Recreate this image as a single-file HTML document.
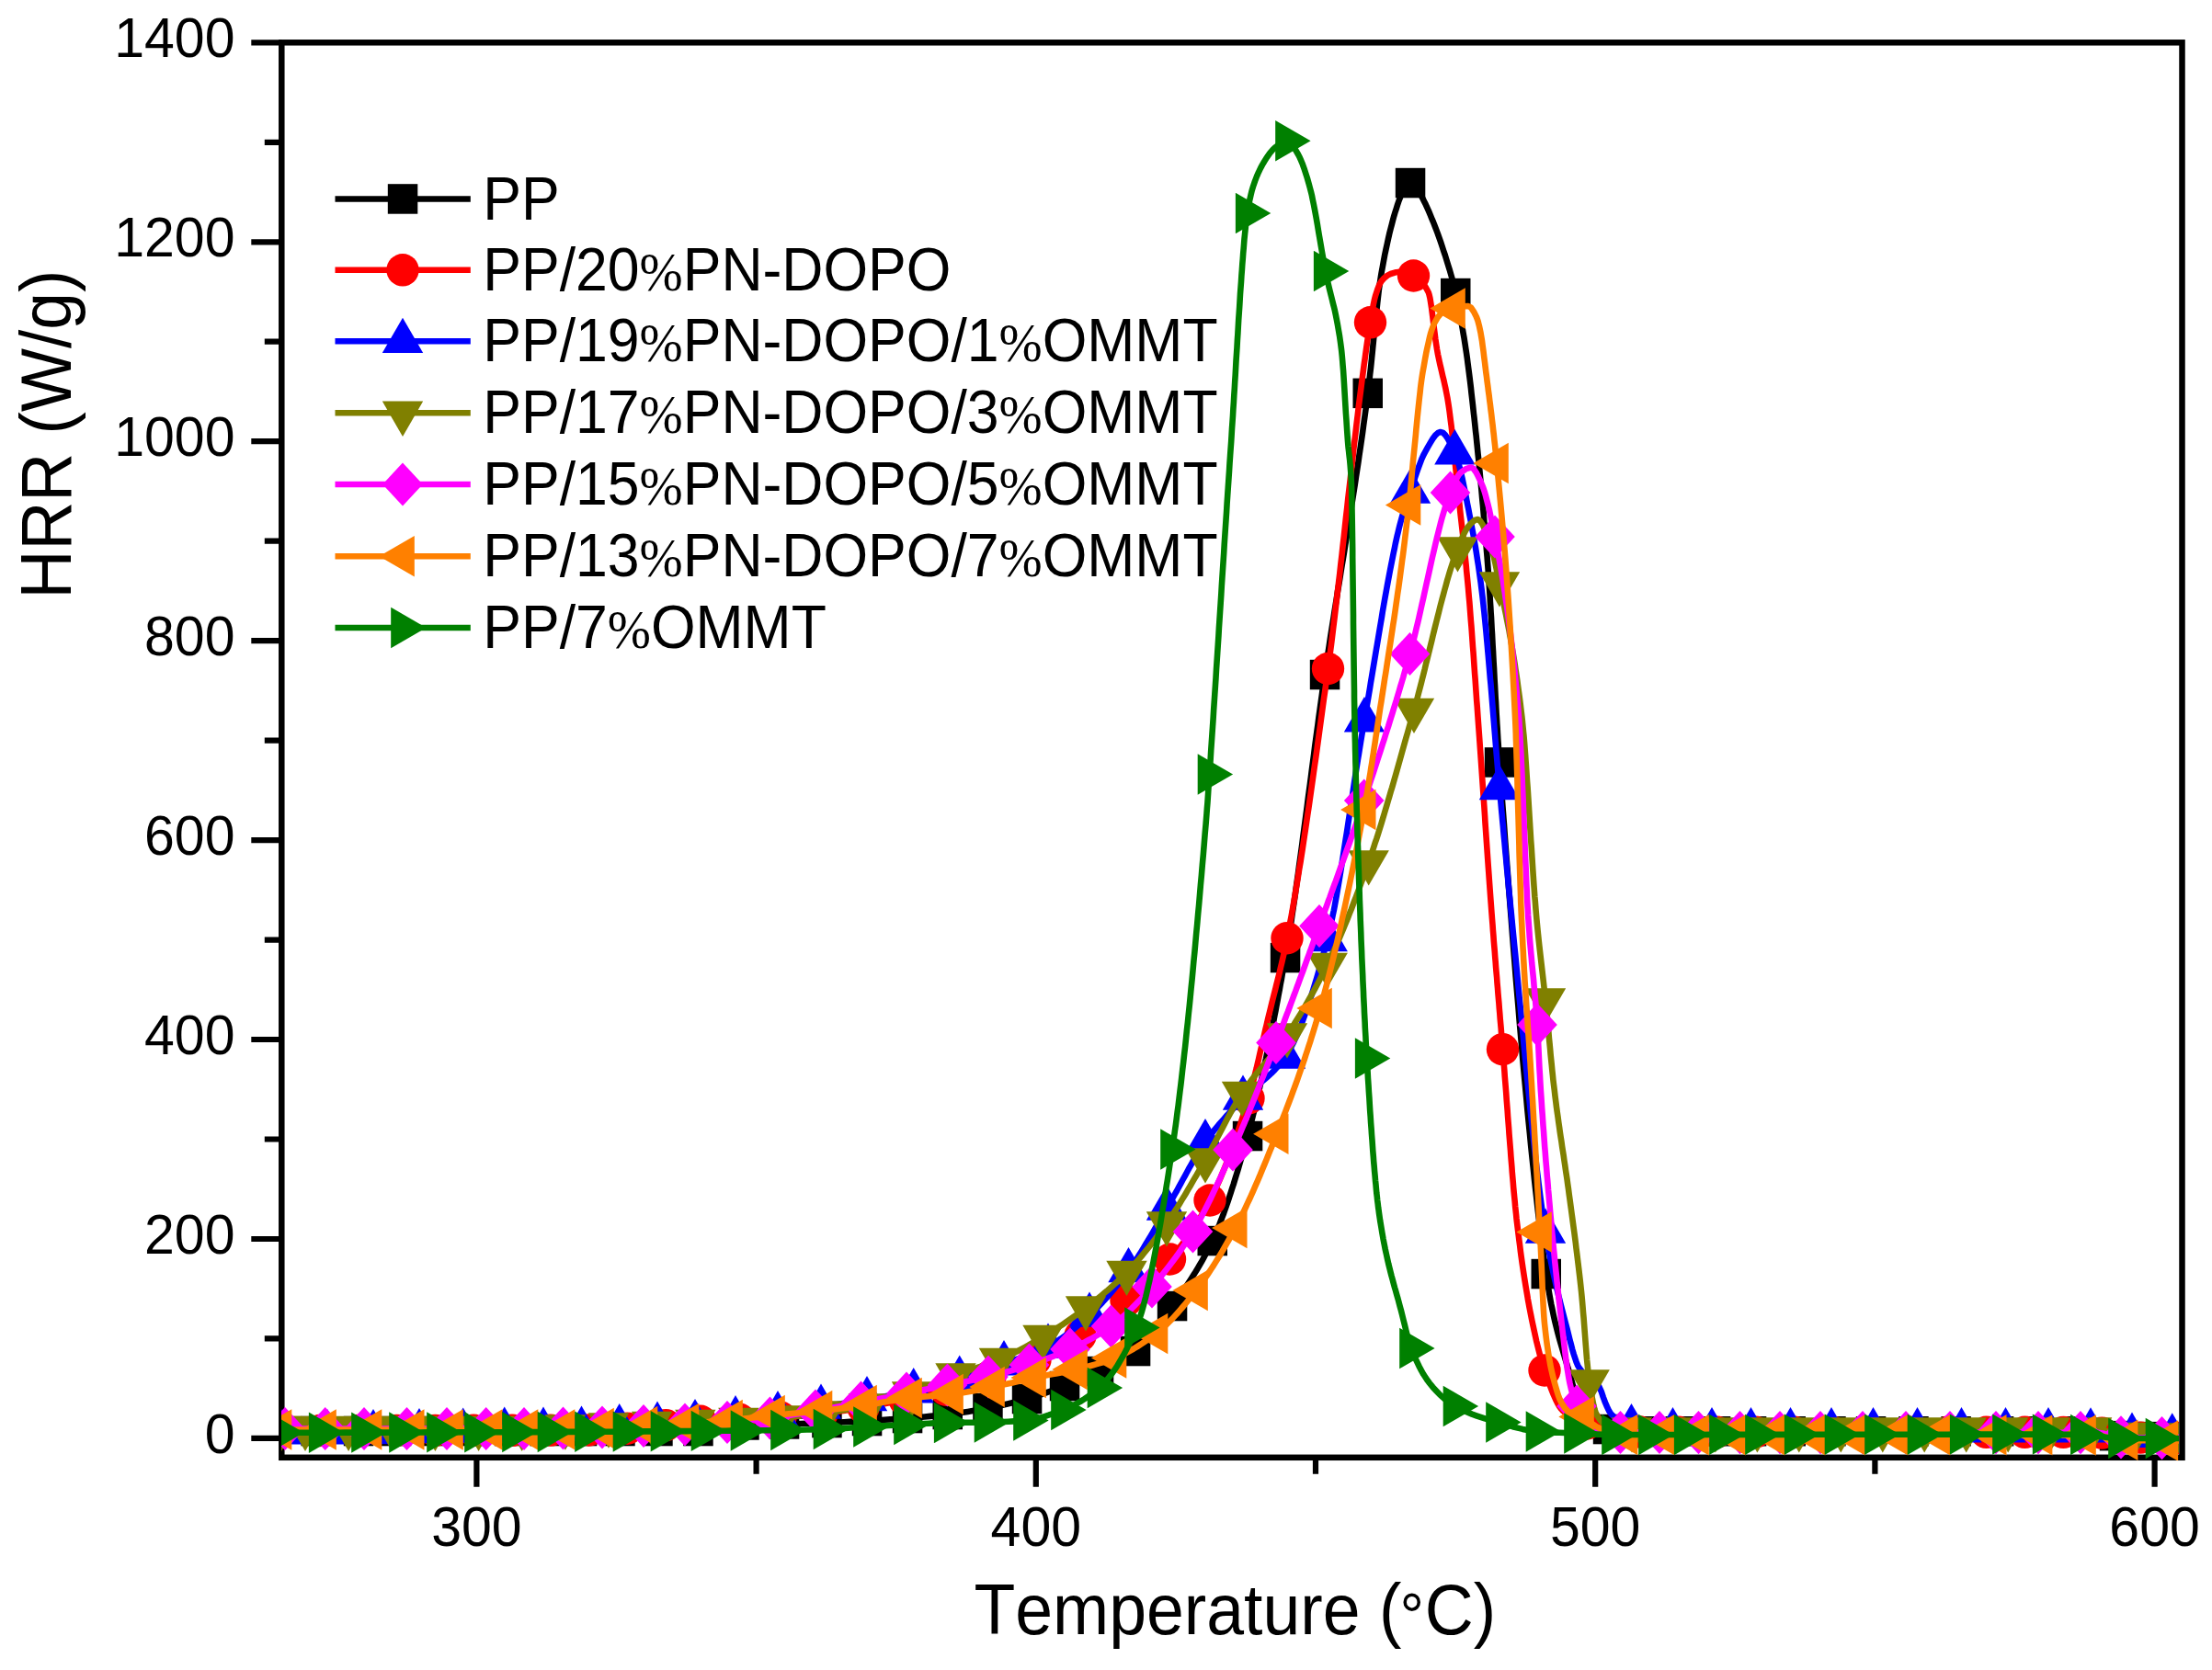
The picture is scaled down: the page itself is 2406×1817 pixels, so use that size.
<!DOCTYPE html>
<html lang="en">
<head>
<meta charset="utf-8">
<title>HRR vs Temperature</title>
<style>
html,body{margin:0;padding:0;background:#fff;}
body{width:2406px;height:1817px;overflow:hidden;}
svg{display:block;}
text{font-kerning:none;}
</style>
</head>
<body>
<svg width="2406" height="1817" viewBox="0 0 2406 1817">
<rect width="2406" height="1817" fill="#fff"/>
<defs><clipPath id="cp"><rect x="306" y="40" width="2064" height="1549"/></clipPath></defs>
<rect x="306.3" y="46.3" width="2067.2" height="1539.5" fill="none" stroke="#000" stroke-width="6.5"/>
<path d="M306.3 1564.9 H273.3 M306.3 1456.4 H287.8 M306.3 1348 H273.3 M306.3 1239.5 H287.8 M306.3 1131 H273.3 M306.3 1022.6 H287.8 M306.3 914.1 H273.3 M306.3 805.6 H287.8 M306.3 697.1 H273.3 M306.3 588.7 H287.8 M306.3 480.2 H273.3 M306.3 371.7 H287.8 M306.3 263.3 H273.3 M306.3 154.8 H287.8 M306.3 46.3 H273.3 M518.4 1585.8 V1617.8 M822.6 1585.8 V1603.8 M1126.8 1585.8 V1617.8 M1431 1585.8 V1603.8 M1735.2 1585.8 V1617.8 M2039.4 1585.8 V1603.8 M2343.6 1585.8 V1617.8" stroke="#000" stroke-width="6.2" fill="none"/>
<g font-family="'Liberation Sans', Arial, sans-serif" fill="#000">
<text transform="translate(255.5 1580.9) scale(0.957 1)" font-size="61.7" text-anchor="end">0</text>
<text transform="translate(255.5 1364) scale(0.957 1)" font-size="61.7" text-anchor="end">200</text>
<text transform="translate(255.5 1147) scale(0.957 1)" font-size="61.7" text-anchor="end">400</text>
<text transform="translate(255.5 930.1) scale(0.957 1)" font-size="61.7" text-anchor="end">600</text>
<text transform="translate(255.5 713.1) scale(0.957 1)" font-size="61.7" text-anchor="end">800</text>
<text transform="translate(255.5 496.2) scale(0.957 1)" font-size="61.7" text-anchor="end">1000</text>
<text transform="translate(255.5 279.3) scale(0.957 1)" font-size="61.7" text-anchor="end">1200</text>
<text transform="translate(255.5 62.3) scale(0.957 1)" font-size="61.7" text-anchor="end">1400</text>
<text transform="translate(518.4 1682.4) scale(0.957 1)" font-size="61.7" text-anchor="middle">300</text>
<text transform="translate(1126.8 1682.4) scale(0.957 1)" font-size="61.7" text-anchor="middle">400</text>
<text transform="translate(1735.2 1682.4) scale(0.957 1)" font-size="61.7" text-anchor="middle">500</text>
<text transform="translate(2343.6 1682.4) scale(0.957 1)" font-size="61.7" text-anchor="middle">600</text>
<text transform="translate(1059.5 1778) scale(0.953 1)" font-size="77" text-anchor="start">Temperature (<tspan x="499.8" dy="5" font-size="69.5" text-anchor="middle">&#176;</tspan><tspan x="514.4" dy="-5" text-anchor="start">C)</tspan></text>
<text transform="translate(76.5 472.5) rotate(-90) scale(0.951 1)" font-size="77" text-anchor="middle">HRR (W/g)</text>
</g>
<g clip-path="url(#cp)">
<path d="M300 1557 L306.2 1557 L312.5 1557 L318.7 1557 L325 1557 L331.2 1557 L337.5 1557 L343.7 1557 L350.3 1557 L356.9 1557 L363.5 1557 L370.2 1557 L376.8 1557 L383.4 1557 L390 1557 L396.8 1557 L403.7 1557 L410.5 1557 L417.3 1557 L424.2 1557 L431 1557 L437.8 1557 L444.7 1557 L451.5 1557 L458.3 1557 L465.2 1557 L472 1557 L478.8 1557 L485.7 1557 L492.5 1557 L499.3 1557 L506.2 1557 L513 1557 L519.8 1557 L526.7 1557 L533.5 1557 L540.3 1557 L547.2 1557 L554 1557 L560.4 1557 L566.8 1557 L573.2 1557 L579.7 1557 L586.1 1557 L592.5 1557 L599.2 1557 L606 1557 L612.8 1557 L619.5 1557 L626.2 1557 L633 1557 L639.9 1557 L646.8 1557 L653.8 1557 L660.7 1557 L667.6 1557 L674.5 1557 L681.3 1557 L688.2 1557 L695 1557 L701.8 1557 L708.7 1557 L715.5 1557 L721.8 1557 L728.1 1557 L734.4 1557 L740.6 1557 L746.9 1557 L753.2 1557 L759.5 1557 L765.1 1556.8 L770.6 1556.3 L776.2 1555.5 L781.7 1554.5 L787.3 1553.5 L792.8 1552.5 L798.4 1551.6 L803.9 1550.9 L809.5 1550.5 L815.7 1550.3 L821.9 1550.1 L828.1 1550 L834.4 1549.9 L840.6 1549.8 L846.8 1549.6 L853 1549.5 L858.8 1549.3 L864.6 1549.2 L870.4 1549 L876.2 1548.8 L882.1 1548.6 L887.9 1548.4 L893.7 1548.2 L899.5 1548 L905.7 1547.8 L911.9 1547.5 L918.1 1547.2 L924.4 1546.9 L930.6 1546.6 L936.8 1546.3 L943 1546 L949.3 1545.6 L955.6 1545.3 L961.9 1544.8 L968.1 1544.4 L974.4 1544 L980.7 1543.5 L987 1543 L993.2 1542.5 L999.5 1542 L1005.7 1541.5 L1012 1540.9 L1018.2 1540.3 L1024.5 1539.7 L1030.7 1539 L1036.2 1538.3 L1041.7 1537.6 L1047.1 1536.8 L1052.6 1535.9 L1058.1 1535 L1063.5 1534 L1069 1533 L1074.5 1532 L1079.8 1531 L1085.1 1529.9 L1090.4 1528.7 L1095.8 1527.5 L1101.1 1526.2 L1106.4 1524.8 L1111.7 1523.5 L1117 1522 L1121.6 1520.7 L1126.1 1519.3 L1130.7 1517.8 L1135.2 1516.3 L1139.8 1514.7 L1144.3 1513.1 L1148.9 1511.4 L1153.4 1509.7 L1158 1508 L1162.6 1506.2 L1167.2 1504.3 L1171.9 1502.4 L1176.5 1500.5 L1181.1 1498.4 L1185.8 1496.4 L1190.4 1494.2 L1195 1492 L1199 1490.1 L1203 1488.2 L1207 1486.3 L1211 1484.4 L1215 1482.4 L1219 1480.3 L1223 1478 L1227 1475.6 L1231 1472.9 L1235 1470 L1237.9 1467.7 L1240.7 1465.1 L1243.6 1462.2 L1246.4 1459.1 L1249.3 1455.8 L1252.1 1452.3 L1255 1448.7 L1257.9 1444.9 L1260.7 1441 L1263.6 1437.1 L1266.4 1433.1 L1269.3 1429 L1272.1 1425 L1275 1421 L1277.3 1417.8 L1279.6 1414.6 L1281.9 1411.4 L1284.2 1408.1 L1286.5 1404.9 L1288.8 1401.5 L1291.1 1398.2 L1293.4 1394.7 L1295.7 1391.2 L1298 1387.6 L1300.3 1384 L1302.6 1380.2 L1304.9 1376.3 L1307.2 1372.3 L1309.5 1368.1 L1311.8 1363.8 L1314.1 1359.4 L1316.4 1354.8 L1318.7 1350 L1320.2 1346.7 L1321.8 1343.3 L1323.3 1339.7 L1324.8 1336 L1326.4 1332.2 L1327.9 1328.3 L1329.4 1324.3 L1331 1320.2 L1332.5 1315.9 L1334 1311.6 L1335.6 1307.2 L1337.1 1302.6 L1338.6 1298 L1340.1 1293.3 L1341.7 1288.5 L1343.2 1283.5 L1344.7 1278.6 L1346.3 1273.5 L1347.8 1268.4 L1349.3 1263.1 L1350.9 1257.8 L1352.4 1252.5 L1353.9 1247 L1355.5 1241.6 L1357 1236 L1358.1 1232.1 L1359.1 1228.2 L1360.2 1224.2 L1361.2 1220.2 L1362.3 1216 L1363.3 1211.8 L1364.4 1207.6 L1365.4 1203.3 L1366.5 1198.9 L1367.5 1194.5 L1368.6 1190 L1369.6 1185.5 L1370.7 1180.8 L1371.7 1176.2 L1372.8 1171.5 L1373.8 1166.7 L1374.9 1161.8 L1375.9 1156.9 L1377 1152 L1378 1147 L1379.1 1141.9 L1380.1 1136.8 L1381.2 1131.6 L1382.2 1126.4 L1383.3 1121.1 L1384.3 1115.8 L1385.4 1110.4 L1386.4 1105 L1387.5 1099.5 L1388.5 1094 L1389.6 1088.4 L1390.6 1082.7 L1391.7 1077.1 L1392.7 1071.3 L1393.8 1065.6 L1394.8 1059.7 L1395.9 1053.9 L1396.9 1048 L1398 1042 L1399.1 1035.8 L1400.2 1029.4 L1401.2 1022.9 L1402.3 1016.2 L1403.4 1009.4 L1404.5 1002.4 L1405.5 995.3 L1406.6 988.1 L1407.7 980.7 L1408.8 973.3 L1409.8 965.7 L1410.9 958 L1412 950.3 L1413 942.5 L1414.1 934.6 L1415.2 926.6 L1416.3 918.6 L1417.3 910.5 L1418.4 902.4 L1419.5 894.2 L1420.6 886 L1421.7 877.8 L1422.7 869.5 L1423.8 861.3 L1424.9 853.1 L1426 844.8 L1427 836.6 L1428.1 828.4 L1429.2 820.2 L1430.2 812 L1431.3 803.9 L1432.4 795.9 L1433.5 787.9 L1434.5 779.9 L1435.6 772.1 L1436.7 764.3 L1437.8 756.5 L1438.8 748.9 L1439.9 741.4 L1441 734 L1442.2 726 L1443.3 718.2 L1444.5 710.4 L1445.7 702.7 L1446.8 695.1 L1448 687.6 L1449.2 680.1 L1450.4 672.7 L1451.5 665.4 L1452.7 658.1 L1453.9 650.8 L1455 643.6 L1456.2 636.4 L1457.4 629.2 L1458.5 622 L1459.7 614.8 L1460.9 607.7 L1462.1 600.5 L1463.2 593.3 L1464.4 586.1 L1465.6 578.9 L1466.7 571.6 L1467.9 564.3 L1469.1 556.9 L1470.2 549.5 L1471.4 542.1 L1472.6 534.5 L1473.8 527 L1474.9 519.3 L1476.1 511.5 L1477.3 503.7 L1478.4 495.7 L1479.6 487.7 L1480.8 479.5 L1482 471.2 L1483.1 462.8 L1484.3 454.3 L1485.5 445.6 L1486.6 436.8 L1487.8 427.8 L1488.4 422.9 L1489 417.8 L1489.6 412.5 L1490.2 406.9 L1490.9 401.2 L1491.5 395.4 L1492.1 389.4 L1492.7 383.4 L1493.3 377.3 L1493.9 371.1 L1494.5 365 L1495.2 358.9 L1495.8 352.8 L1496.4 346.9 L1497 341 L1497.6 335.3 L1498.2 329.7 L1498.8 324.3 L1499.4 319.1 L1500 314.2 L1500.7 309.6 L1501.3 305.2 L1501.9 301.2 L1502.5 297.5 L1503.8 290.5 L1505 283.8 L1506.2 277.4 L1507.5 271.3 L1508.8 265.4 L1510 259.7 L1511.2 254.4 L1512.5 249.2 L1513.8 244.3 L1515 239.6 L1516.2 235.2 L1517.5 230.9 L1518.8 226.9 L1520 223.1 L1521.2 219.4 L1522.5 216 L1524.7 210.2 L1526.8 205.2 L1529 202 L1531.5 199.9 L1534 199 L1536.5 200 L1539 202 L1541.8 205.5 L1544.7 210.4 L1547.5 216 L1549.1 219.2 L1550.8 222.6 L1552.4 226.1 L1554 229.7 L1555.6 233.5 L1557.2 237.4 L1558.9 241.4 L1560.5 245.5 L1562.1 249.7 L1563.8 254.1 L1565.4 258.6 L1567 263.2 L1568.6 268 L1570.2 272.9 L1571.9 277.9 L1573.5 283.1 L1575.1 288.4 L1576.8 293.8 L1578.4 299.3 L1580 305 L1581.7 311.5 L1583.3 319 L1584.2 323.4 L1585.2 327.8 L1586.1 332.4 L1587 337.1 L1587.9 341.9 L1588.8 346.8 L1589.8 351.9 L1590.7 357.2 L1591.6 362.6 L1592.6 368.2 L1593.5 374 L1594.4 380 L1595.1 384.6 L1595.8 389.4 L1596.4 394.4 L1597.1 399.6 L1597.8 405 L1598.5 410.5 L1599.2 416.2 L1599.9 422 L1600.5 427.9 L1601.2 433.9 L1601.9 440 L1602.4 444.7 L1602.9 449.5 L1603.5 454.3 L1604 459.1 L1604.5 463.9 L1605 468.8 L1605.6 473.8 L1606.1 478.8 L1606.6 483.9 L1607.1 489 L1607.6 494.1 L1608.2 499.3 L1608.7 504.6 L1609.2 510 L1609.7 515.4 L1610.2 520.8 L1610.8 526.4 L1611.3 532 L1611.8 537.7 L1612.3 543.5 L1612.9 549.3 L1613.4 555.2 L1613.9 561.3 L1614.4 567.4 L1614.9 573.5 L1615.5 579.8 L1616 586.2 L1616.5 592.7 L1617 599.3 L1617.6 605.9 L1618.1 612.7 L1618.6 619.6 L1618.9 624.1 L1619.3 628.9 L1619.6 633.8 L1619.9 638.8 L1620.3 644 L1620.6 649.3 L1620.9 654.8 L1621.3 660.4 L1621.6 666.1 L1622 671.8 L1622.3 677.7 L1622.6 683.7 L1623 689.7 L1623.3 695.8 L1623.6 701.9 L1624 708.1 L1624.3 714.3 L1624.6 720.5 L1625 726.7 L1625.3 732.9 L1625.6 739.2 L1626 745.4 L1626.3 751.5 L1626.6 757.7 L1627 763.8 L1627.3 769.8 L1627.6 775.7 L1628 781.6 L1628.3 787.4 L1628.7 793.1 L1629 798.7 L1629.3 804.2 L1629.7 809.5 L1630 814.8 L1630.3 819.8 L1630.7 824.7 L1631 829.5 L1632.3 847.1 L1633.5 864.6 L1634.8 881.9 L1636.1 899.1 L1637.3 916.2 L1638.6 933.2 L1639.9 950 L1641.1 966.6 L1642.4 983.1 L1643.7 999.5 L1644.9 1015.6 L1646.2 1031.6 L1647.5 1047.4 L1648.7 1063.1 L1650 1078.5 L1651.3 1093.8 L1652.5 1108.8 L1653.8 1123.7 L1655.1 1138.3 L1656.3 1152.7 L1657.6 1166.9 L1658.9 1180.8 L1660.2 1194.5 L1661.4 1208 L1662.7 1221.2 L1664 1234.2 L1665.2 1246.9 L1666.5 1259.4 L1667.8 1271.5 L1669 1283.4 L1670.3 1295.1 L1671.6 1306.4 L1672.8 1317.4 L1674.1 1328.2 L1675.4 1338.6 L1676.6 1348.7 L1677.9 1358.5 L1679.2 1368 L1680.4 1377.2 L1681.7 1386 L1682.6 1392.1 L1683.5 1398 L1684.5 1403.5 L1685.4 1408.8 L1686.3 1413.9 L1687.2 1418.7 L1688.2 1423.3 L1689.1 1427.7 L1690 1432 L1691.3 1437.7 L1692.6 1443.1 L1693.9 1448.2 L1695.2 1453.1 L1696.5 1457.8 L1697.8 1462.4 L1699.1 1466.8 L1700.4 1471.2 L1701.6 1475.4 L1702.9 1479.7 L1704.2 1484 L1705.5 1488.3 L1706.8 1492.7 L1708.1 1497.3 L1709.4 1502 L1710.7 1506.9 L1712 1512 L1713.2 1517.4 L1714.3 1523.8 L1715.5 1530.3 L1716.7 1536.1 L1717.8 1540.6 L1719 1543 L1723.3 1546.4 L1727.6 1549.1 L1731.9 1551.1 L1736.1 1552.6 L1740.4 1553.7 L1744.7 1554.5 L1749 1555 L1754.7 1555.6 L1760.4 1556.1 L1766.1 1556.5 L1771.9 1556.8 L1777.6 1557.1 L1783.3 1557.2 L1789 1557.3 L1795.5 1557.3 L1801.9 1557.3 L1808.3 1557.3 L1814.8 1557.3 L1821.2 1557.3 L1827.7 1557.3 L1834.1 1557.3 L1840.5 1557.3 L1846.8 1557.3 L1853.2 1557.3 L1859.6 1557.3 L1866 1557.3 L1872.5 1557.3 L1879 1557.3 L1885.5 1557.3 L1892 1557.3 L1898.5 1557.3 L1905 1557.3 L1911.1 1557.3 L1917.2 1557.3 L1923.3 1557.3 L1929.4 1557.3 L1935.5 1557.3 L1941.6 1557.3 L1947.7 1557.3 L1954 1557.3 L1960.2 1557.3 L1966.5 1557.3 L1972.7 1557.3 L1979 1557.3 L1985.2 1557.3 L1991.5 1557.3 L1997.7 1557.3 L2003.9 1557.3 L2010.1 1557.3 L2016.4 1557.3 L2022.6 1557.3 L2028.8 1557.3 L2035 1557.3 L2041.6 1557.3 L2048.3 1557.3 L2054.9 1557.3 L2061.6 1557.3 L2068.2 1557.3 L2074.9 1557.3 L2081.5 1557.3 L2088.1 1557.3 L2094.7 1557.3 L2101.3 1557.3 L2107.9 1557.3 L2114.5 1557.3 L2121.1 1557.3 L2127.7 1557.3 L2134.3 1557.3 L2140.9 1557.3 L2147.5 1557.3 L2154.2 1557.3 L2160.8 1557.3 L2167.4 1557.3 L2174 1557.3 L2180.2 1557.3 L2186.5 1557.3 L2192.7 1557.3 L2198.9 1557.3 L2205.1 1557.3 L2211.4 1557.3 L2217.6 1557.3 L2224.5 1557.3 L2231.3 1557.3 L2238.2 1557.3 L2245.1 1557.3 L2251.9 1557.3 L2258.8 1557.3 L2266.5 1557.3 L2274.3 1557.3 L2282 1557.3 L2287 1558.1 L2292 1559.7 L2297 1561.4 L2302 1562.3 L2308.4 1562.5 L2314.7 1562.7 L2321.1 1562.8 L2327.5 1562.9 L2333.8 1563 L2340.2 1563.1 L2346.5 1563.2 L2352.9 1563.2 L2359.3 1563.3 L2365.6 1563.3 L2372 1563.3" fill="none" stroke="#000000" stroke-width="6.6" stroke-linejoin="round"/>
<rect x="283.8" y="1540.8" width="32.5" height="32.5" fill="#000000"/>
<rect x="327.4" y="1540.8" width="32.5" height="32.5" fill="#000000"/>
<rect x="373.8" y="1540.8" width="32.5" height="32.5" fill="#000000"/>
<rect x="414.8" y="1540.8" width="32.5" height="32.5" fill="#000000"/>
<rect x="455.8" y="1540.8" width="32.5" height="32.5" fill="#000000"/>
<rect x="496.8" y="1540.8" width="32.5" height="32.5" fill="#000000"/>
<rect x="537.8" y="1540.8" width="32.5" height="32.5" fill="#000000"/>
<rect x="576.2" y="1540.8" width="32.5" height="32.5" fill="#000000"/>
<rect x="616.8" y="1540.8" width="32.5" height="32.5" fill="#000000"/>
<rect x="658.2" y="1540.8" width="32.5" height="32.5" fill="#000000"/>
<rect x="699.2" y="1540.8" width="32.5" height="32.5" fill="#000000"/>
<rect x="743.2" y="1540.8" width="32.5" height="32.5" fill="#000000"/>
<rect x="793.2" y="1534.2" width="32.5" height="32.5" fill="#000000"/>
<rect x="836.8" y="1533.2" width="32.5" height="32.5" fill="#000000"/>
<rect x="883.2" y="1531.8" width="32.5" height="32.5" fill="#000000"/>
<rect x="926.8" y="1529.8" width="32.5" height="32.5" fill="#000000"/>
<rect x="970.8" y="1526.8" width="32.5" height="32.5" fill="#000000"/>
<rect x="1014.5" y="1522.8" width="32.5" height="32.5" fill="#000000"/>
<rect x="1058.2" y="1515.8" width="32.5" height="32.5" fill="#000000"/>
<rect x="1100.8" y="1505.8" width="32.5" height="32.5" fill="#000000"/>
<rect x="1141.8" y="1491.8" width="32.5" height="32.5" fill="#000000"/>
<rect x="1178.8" y="1475.8" width="32.5" height="32.5" fill="#000000"/>
<rect x="1218.8" y="1453.8" width="32.5" height="32.5" fill="#000000"/>
<rect x="1258.8" y="1404.8" width="32.5" height="32.5" fill="#000000"/>
<rect x="1302.5" y="1333.8" width="32.5" height="32.5" fill="#000000"/>
<rect x="1340.8" y="1219.8" width="32.5" height="32.5" fill="#000000"/>
<rect x="1381.8" y="1025.8" width="32.5" height="32.5" fill="#000000"/>
<rect x="1424.8" y="717.8" width="32.5" height="32.5" fill="#000000"/>
<rect x="1471.5" y="411.6" width="32.5" height="32.5" fill="#000000"/>
<rect x="1517.8" y="182.8" width="32.5" height="32.5" fill="#000000"/>
<rect x="1567" y="302.8" width="32.5" height="32.5" fill="#000000"/>
<rect x="1614.8" y="813.2" width="32.5" height="32.5" fill="#000000"/>
<rect x="1665.5" y="1369.8" width="32.5" height="32.5" fill="#000000"/>
<rect x="1702.8" y="1526.8" width="32.5" height="32.5" fill="#000000"/>
<rect x="1732.8" y="1538.8" width="32.5" height="32.5" fill="#000000"/>
<rect x="1772.8" y="1541" width="32.5" height="32.5" fill="#000000"/>
<rect x="1811.5" y="1541" width="32.5" height="32.5" fill="#000000"/>
<rect x="1849.8" y="1541" width="32.5" height="32.5" fill="#000000"/>
<rect x="1888.8" y="1541" width="32.5" height="32.5" fill="#000000"/>
<rect x="1931.5" y="1541" width="32.5" height="32.5" fill="#000000"/>
<rect x="1975.2" y="1541" width="32.5" height="32.5" fill="#000000"/>
<rect x="2018.8" y="1541" width="32.5" height="32.5" fill="#000000"/>
<rect x="2065.2" y="1541" width="32.5" height="32.5" fill="#000000"/>
<rect x="2111.4" y="1541" width="32.5" height="32.5" fill="#000000"/>
<rect x="2157.8" y="1541" width="32.5" height="32.5" fill="#000000"/>
<rect x="2201.3" y="1541" width="32.5" height="32.5" fill="#000000"/>
<rect x="2242.6" y="1541" width="32.5" height="32.5" fill="#000000"/>
<rect x="2283.8" y="1545.9" width="32.5" height="32.5" fill="#000000"/>
<rect x="2324.2" y="1546.9" width="32.5" height="32.5" fill="#000000"/>
<rect x="2355.8" y="1547.1" width="32.5" height="32.5" fill="#000000"/>
<path d="M306 1556.5 L314.4 1556.5 L322.7 1556.5 L331.1 1556.5 L339.4 1556.5 L347.8 1556.5 L356.1 1556.5 L364.4 1556.5 L372.8 1556.5 L381.1 1556.5 L389.5 1556.5 L397.9 1556.5 L406.2 1556.5 L414.6 1556.5 L422.9 1556.5 L431.2 1556.5 L439.6 1556.4 L447.9 1556.4 L456.3 1556.4 L464.6 1556.4 L473 1556.4 L481.4 1556.4 L489.7 1556.4 L498 1556.4 L506.4 1556.4 L514.8 1556.3 L523.1 1556.3 L531.5 1556.3 L539.8 1556.3 L548.1 1556.3 L556.5 1556.3 L564.8 1556.2 L573.2 1556.2 L581.5 1556.2 L589.9 1556.2 L598.2 1556.1 L606.6 1556.1 L615 1556.1 L623.3 1556.1 L631.6 1556 L640 1556 L646.4 1555.9 L652.9 1555.7 L659.3 1555.5 L665.7 1555.1 L672.1 1554.8 L678.6 1554.4 L685 1554 L690.6 1553.6 L696.2 1553.2 L701.9 1552.7 L707.5 1552.2 L713.1 1551.7 L718.8 1551.1 L724.4 1550.6 L730 1550 L736 1549.3 L742 1548.6 L748 1547.9 L754 1547.1 L760 1546.5 L766 1546 L771.8 1545.6 L777.5 1545.3 L783.2 1545 L789 1544.7 L794.8 1544.5 L800.5 1544.2 L806.2 1544 L812 1543.7 L818.4 1543.4 L824.9 1543.1 L831.3 1542.8 L837.7 1542.5 L844.1 1542.2 L850.6 1541.9 L857 1541.5 L862.6 1541.1 L868.2 1540.6 L873.9 1540.1 L879.5 1539.6 L885.1 1539 L890.8 1538.3 L896.4 1537.7 L902 1537 L907.6 1536.3 L913.2 1535.5 L918.9 1534.7 L924.5 1533.8 L930.1 1532.9 L935.8 1531.9 L941.4 1531 L947 1530 L952 1529.1 L957 1528.2 L962 1527.2 L967 1526.3 L972 1525.2 L977 1524.2 L982 1523.2 L987 1522.1 L992 1521 L997 1519.9 L1002 1518.8 L1007 1517.6 L1012 1516.4 L1017 1515.2 L1022 1514 L1027 1512.7 L1032 1511.4 L1037 1510 L1041.7 1508.7 L1046.4 1507.3 L1051.1 1505.9 L1055.8 1504.4 L1060.5 1502.9 L1065.2 1501.4 L1069.9 1499.8 L1074.6 1498.2 L1079.3 1496.6 L1084 1495 L1088.7 1493.4 L1093.4 1491.7 L1098.1 1490 L1102.8 1488.3 L1107.5 1486.6 L1112.2 1484.8 L1116.9 1483 L1121.6 1481.1 L1126.3 1479.1 L1131 1477 L1135.1 1475.1 L1139.2 1473.2 L1143.2 1471.2 L1147.3 1469.1 L1151.4 1466.9 L1155.5 1464.7 L1159.6 1462.4 L1163.7 1460.1 L1167.8 1457.6 L1171.8 1455.2 L1175.9 1452.6 L1180 1450 L1183.5 1447.7 L1186.9 1445.3 L1190.4 1442.9 L1193.8 1440.3 L1197.3 1437.7 L1200.8 1435 L1204.2 1432.3 L1207.7 1429.5 L1211.2 1426.7 L1214.6 1423.8 L1218.1 1420.9 L1221.5 1417.9 L1225 1415 L1228.2 1412.3 L1231.3 1409.6 L1234.5 1406.9 L1237.7 1404.2 L1240.8 1401.4 L1244 1398.6 L1247.2 1395.7 L1250.3 1392.8 L1253.5 1389.9 L1256.7 1386.8 L1259.8 1383.7 L1263 1380.4 L1266.2 1377.1 L1269.3 1373.6 L1272.5 1370 L1275.1 1367 L1277.6 1363.9 L1280.2 1360.8 L1282.7 1357.6 L1285.3 1354.3 L1287.9 1350.9 L1290.4 1347.4 L1293 1343.8 L1295.5 1340.1 L1298.1 1336.3 L1300.6 1332.4 L1303.2 1328.4 L1305.8 1324.2 L1308.3 1319.8 L1310.9 1315.4 L1313.4 1310.8 L1316 1306 L1317.7 1302.8 L1319.4 1299.4 L1321 1295.9 L1322.7 1292.4 L1324.4 1288.7 L1326.1 1284.9 L1327.8 1281 L1329.4 1277 L1331.1 1272.9 L1332.8 1268.7 L1334.5 1264.4 L1336.2 1260 L1337.8 1255.6 L1339.5 1251 L1341.2 1246.3 L1342.9 1241.5 L1344.6 1236.7 L1346.2 1231.8 L1347.9 1226.8 L1349.6 1221.7 L1351.3 1216.5 L1353 1211.2 L1354.6 1205.9 L1356.3 1200.5 L1358 1195 L1359.2 1190.9 L1360.4 1186.6 L1361.7 1182.1 L1362.9 1177.4 L1364.1 1172.6 L1365.3 1167.7 L1366.6 1162.7 L1367.8 1157.6 L1369 1152.4 L1370.2 1147.1 L1371.4 1141.8 L1372.7 1136.5 L1373.9 1131.2 L1375.1 1125.9 L1376.3 1120.6 L1377.6 1115.3 L1378.8 1110.1 L1380 1105 L1381.2 1100.2 L1382.4 1095.4 L1383.5 1090.7 L1384.7 1086 L1385.9 1081.3 L1387.1 1076.7 L1388.2 1072 L1389.4 1067.3 L1390.6 1062.6 L1391.8 1057.8 L1392.9 1052.9 L1394.1 1047.9 L1395.3 1042.8 L1396.5 1037.5 L1397.6 1032.1 L1398.8 1026.5 L1400 1020.7 L1401.1 1015.1 L1402.2 1009.3 L1403.3 1003.4 L1404.5 997.4 L1405.6 991.2 L1406.7 985 L1407.8 978.6 L1408.9 972.1 L1410 965.5 L1411.1 958.8 L1412.2 952 L1413.3 945.1 L1414.5 938.1 L1415.6 931 L1416.7 923.9 L1417.8 916.6 L1418.9 909.3 L1420 901.9 L1421.1 894.4 L1422.2 886.9 L1423.4 879.3 L1424.5 871.6 L1425.6 863.9 L1426.7 856.1 L1427.8 848.3 L1428.9 840.4 L1430 832.5 L1431.2 824.5 L1432.3 816.6 L1433.4 808.5 L1434.5 800.5 L1435.6 792.4 L1436.7 784.4 L1437.8 776.3 L1438.9 768.1 L1440 760 L1441.2 751.9 L1442.3 743.8 L1443.4 735.6 L1444.5 727.5 L1445.7 719 L1446.8 710.3 L1448 701.4 L1449.1 692.3 L1450.2 683 L1451.4 673.5 L1452.5 664 L1453.7 654.2 L1454.8 644.4 L1456 634.5 L1457.2 624.4 L1458.3 614.3 L1459.5 604.1 L1460.6 593.8 L1461.8 583.6 L1462.9 573.2 L1464 562.9 L1465.2 552.6 L1466.3 542.2 L1467.5 531.9 L1468.7 521.6 L1469.8 511.4 L1471 501.3 L1472.1 491.2 L1473.2 481.2 L1474.4 471.3 L1475.5 461.5 L1476.7 451.9 L1477.8 442.3 L1479 433 L1480.2 423.8 L1481.3 414.8 L1482.5 406 L1483.6 397.4 L1484.8 389 L1485.9 380.8 L1487 372.9 L1488.2 365.3 L1489.3 357.9 L1490.5 350.8 L1491.6 344.1 L1492.7 337.7 L1493.8 331.6 L1494.9 326.3 L1496 322 L1498.2 315.2 L1500.3 309.7 L1502.5 306 L1505.8 302.3 L1509.2 299.6 L1512.5 298 L1518.8 296.2 L1525 295.5 L1531.2 296.9 L1537.5 300 L1540.7 301.9 L1544 304.4 L1547.2 307.7 L1550.5 312.2 L1553.7 318 L1554.5 320.5 L1555.4 324.3 L1556.2 329.2 L1557.1 335 L1557.9 341.4 L1558.8 348.3 L1559.6 355.3 L1560.5 362.2 L1561.3 368.7 L1562.2 374.8 L1563 380 L1564 385.6 L1565.1 390.8 L1566.1 395.6 L1567.2 400.1 L1568.2 404.5 L1569.2 408.9 L1570.3 413.3 L1571.3 417.9 L1572.4 422.8 L1573.4 428 L1574.5 433.7 L1575.5 440 L1576.1 444 L1576.7 448.4 L1577.3 453.1 L1577.9 458 L1578.6 463.2 L1579.2 468.7 L1579.8 474.3 L1580.4 480 L1581 485.9 L1581.6 491.9 L1582.2 498 L1582.8 504.1 L1583.4 510.2 L1584.1 516.3 L1584.7 522.4 L1585.3 528.3 L1585.9 534.2 L1586.5 540 L1587.1 545.4 L1587.7 550.7 L1588.2 556 L1588.8 561.3 L1589.4 566.5 L1590 571.8 L1590.6 577 L1591.2 582.3 L1591.8 587.6 L1592.3 593 L1592.9 598.5 L1593.5 604 L1594.1 609.7 L1594.7 615.4 L1595.2 621.4 L1595.8 627.4 L1596.4 633.6 L1597 640 L1597.4 644.7 L1597.8 649.6 L1598.3 654.6 L1598.7 659.7 L1599.1 664.9 L1599.5 670.2 L1599.9 675.6 L1600.4 681.1 L1600.8 686.6 L1601.2 692.2 L1601.6 697.9 L1602 703.7 L1602.5 709.5 L1602.9 715.3 L1603.3 721.2 L1603.7 727.1 L1604.1 733 L1604.6 738.9 L1605 744.8 L1605.4 750.7 L1605.8 756.6 L1606.2 762.5 L1606.7 768.4 L1607.1 774.2 L1607.5 780 L1607.9 785.5 L1608.3 791 L1608.7 796.5 L1609.1 802.1 L1609.5 807.7 L1609.9 813.4 L1610.3 819 L1610.7 824.7 L1611.1 830.4 L1611.5 836.2 L1611.9 841.9 L1612.3 847.7 L1612.7 853.5 L1613.1 859.2 L1613.5 865 L1613.9 870.8 L1614.3 876.6 L1614.7 882.4 L1615.1 888.2 L1615.4 894 L1615.8 899.8 L1616.2 905.6 L1616.6 911.3 L1617 917.1 L1617.4 922.8 L1617.8 928.5 L1618.2 934.2 L1618.6 939.9 L1619 945.5 L1619.4 951.1 L1619.8 956.7 L1620.2 962.3 L1620.6 967.8 L1621 973.3 L1621.4 978.7 L1621.8 984.1 L1622.2 989.4 L1622.6 994.7 L1623 1000 L1623.5 1006 L1623.9 1012 L1624.4 1017.9 L1624.8 1023.8 L1625.3 1029.6 L1625.8 1035.4 L1626.2 1041.1 L1626.7 1046.8 L1627.1 1052.5 L1627.6 1058.1 L1628.1 1063.8 L1628.5 1069.4 L1629 1074.9 L1629.4 1080.5 L1629.9 1086.1 L1630.4 1091.6 L1630.8 1097.2 L1631.3 1102.7 L1631.7 1108.2 L1632.2 1113.8 L1632.7 1119.3 L1633.1 1124.9 L1633.6 1130.5 L1634 1136.1 L1634.5 1141.7 L1635 1147.5 L1635.4 1153.4 L1635.9 1159.3 L1636.4 1165.4 L1636.8 1171.5 L1637.3 1177.6 L1637.8 1183.8 L1638.3 1190 L1638.7 1196.2 L1639.2 1202.5 L1639.7 1208.8 L1640.1 1215 L1640.6 1221.3 L1641.1 1227.5 L1641.5 1233.7 L1642 1239.8 L1642.5 1246 L1643 1252 L1643.4 1258 L1643.9 1263.9 L1644.4 1269.8 L1644.8 1275.5 L1645.3 1281.1 L1645.8 1286.7 L1646.2 1292.1 L1646.7 1297.4 L1647.2 1302.5 L1647.7 1307.5 L1648.1 1312.3 L1648.6 1317 L1649.1 1321.5 L1649.5 1325.9 L1650 1330 L1650.8 1336.7 L1651.6 1343.2 L1652.4 1349.5 L1653.2 1355.7 L1653.9 1361.7 L1654.7 1367.5 L1655.5 1373.2 L1656.3 1378.7 L1657.1 1384 L1657.9 1389.2 L1658.7 1394.3 L1659.5 1399.2 L1660.3 1404 L1661.1 1408.6 L1661.8 1413.1 L1662.6 1417.5 L1663.4 1421.8 L1664.2 1426 L1665 1430 L1666.2 1436.2 L1667.5 1442.3 L1668.8 1448.2 L1670 1453.8 L1671.2 1459.3 L1672.5 1464.5 L1673.8 1469.6 L1675 1474.4 L1676.2 1478.9 L1677.5 1483.2 L1678.8 1487.2 L1680 1491 L1682 1496.8 L1684 1502.4 L1686 1507.9 L1688 1513.1 L1690 1518 L1692 1522.5 L1694 1526.5 L1696 1530 L1698 1532.8 L1700 1535 L1704.3 1538.5 L1708.7 1541.3 L1713 1543.7 L1717.3 1545.6 L1721.7 1547.4 L1726 1549 L1730.8 1550.8 L1735.6 1552.5 L1740.4 1554 L1745.2 1555.2 L1750 1556 L1756.2 1556.8 L1762.5 1557.4 L1768.8 1557.8 L1775 1558 L1787.7 1558 L1800.3 1558.1 L1813 1558.1 L1825.7 1558.1 L1838.4 1558.1 L1851 1558.2 L1863.7 1558.2 L1876.4 1558.2 L1889.1 1558.2 L1901.8 1558.2 L1914.4 1558.2 L1927.1 1558.2 L1939.8 1558.2 L1952.5 1558.2 L1965.1 1558.2 L1977.8 1558.2 L1990.5 1558.2 L2003.2 1558.2 L2015.8 1558.2 L2028.5 1558.2 L2041.2 1558.2 L2053.8 1558.2 L2066.5 1558.2 L2079.2 1558.3 L2091.9 1558.3 L2104.6 1558.3 L2117.2 1558.3 L2129.9 1558.3 L2142.6 1558.3 L2155.2 1558.3 L2167.9 1558.3 L2180.6 1558.3 L2193.3 1558.3 L2205.9 1558.3 L2218.6 1558.4 L2231.3 1558.4 L2244 1558.4 L2256.7 1558.4 L2269.3 1558.5 L2282 1558.5 L2287 1559.3 L2292 1560.9 L2297 1562.6 L2302 1563.5 L2308.4 1563.7 L2314.7 1563.9 L2321.1 1564 L2327.5 1564.1 L2333.8 1564.2 L2340.2 1564.3 L2346.5 1564.4 L2352.9 1564.4 L2359.3 1564.5 L2365.6 1564.5 L2372 1564.5" fill="none" stroke="#ff0000" stroke-width="6.6" stroke-linejoin="round"/>
<circle cx="306.2" cy="1556.5" r="17.7" fill="#ff0000"/>
<circle cx="348" cy="1556.5" r="17.7" fill="#ff0000"/>
<circle cx="389.8" cy="1556.5" r="17.7" fill="#ff0000"/>
<circle cx="431.6" cy="1556.5" r="17.7" fill="#ff0000"/>
<circle cx="473.4" cy="1556.4" r="17.7" fill="#ff0000"/>
<circle cx="515.2" cy="1556.3" r="17.7" fill="#ff0000"/>
<circle cx="557" cy="1556.3" r="17.7" fill="#ff0000"/>
<circle cx="598.8" cy="1556.1" r="17.7" fill="#ff0000"/>
<circle cx="640.6" cy="1556" r="17.7" fill="#ff0000"/>
<circle cx="682.4" cy="1554.2" r="17.7" fill="#ff0000"/>
<circle cx="724.2" cy="1550.6" r="17.7" fill="#ff0000"/>
<circle cx="762" cy="1546.3" r="17.7" fill="#ff0000"/>
<circle cx="804" cy="1544.1" r="17.7" fill="#ff0000"/>
<circle cx="849" cy="1542" r="17.7" fill="#ff0000"/>
<circle cx="894" cy="1538" r="17.7" fill="#ff0000"/>
<circle cx="939" cy="1531.4" r="17.7" fill="#ff0000"/>
<circle cx="984" cy="1522.7" r="17.7" fill="#ff0000"/>
<circle cx="1029" cy="1512.2" r="17.7" fill="#ff0000"/>
<circle cx="1077" cy="1497.4" r="17.7" fill="#ff0000"/>
<circle cx="1126" cy="1479.2" r="17.7" fill="#ff0000"/>
<circle cx="1175" cy="1453.2" r="17.7" fill="#ff0000"/>
<circle cx="1225" cy="1415" r="17.7" fill="#ff0000"/>
<circle cx="1272.5" cy="1370" r="17.7" fill="#ff0000"/>
<circle cx="1316" cy="1306" r="17.7" fill="#ff0000"/>
<circle cx="1358" cy="1195" r="17.7" fill="#ff0000"/>
<circle cx="1400" cy="1020.7" r="17.7" fill="#ff0000"/>
<circle cx="1444.5" cy="727.5" r="17.7" fill="#ff0000"/>
<circle cx="1490.5" cy="350.8" r="17.7" fill="#ff0000"/>
<circle cx="1537.5" cy="300" r="17.7" fill="#ff0000"/>
<circle cx="1634.5" cy="1141.7" r="17.7" fill="#ff0000"/>
<circle cx="1680" cy="1491" r="17.7" fill="#ff0000"/>
<circle cx="1726" cy="1549" r="17.7" fill="#ff0000"/>
<circle cx="1783.5" cy="1558" r="17.7" fill="#ff0000"/>
<circle cx="1825.4" cy="1558.1" r="17.7" fill="#ff0000"/>
<circle cx="1867.3" cy="1558.2" r="17.7" fill="#ff0000"/>
<circle cx="1909.2" cy="1558.2" r="17.7" fill="#ff0000"/>
<circle cx="1951.1" cy="1558.2" r="17.7" fill="#ff0000"/>
<circle cx="1993" cy="1558.2" r="17.7" fill="#ff0000"/>
<circle cx="2034.9" cy="1558.2" r="17.7" fill="#ff0000"/>
<circle cx="2076.8" cy="1558.3" r="17.7" fill="#ff0000"/>
<circle cx="2118.6" cy="1558.3" r="17.7" fill="#ff0000"/>
<circle cx="2160.5" cy="1558.3" r="17.7" fill="#ff0000"/>
<circle cx="2202.4" cy="1558.3" r="17.7" fill="#ff0000"/>
<circle cx="2244.3" cy="1558.4" r="17.7" fill="#ff0000"/>
<circle cx="2286.2" cy="1559.1" r="17.7" fill="#ff0000"/>
<circle cx="2328.1" cy="1564.1" r="17.7" fill="#ff0000"/>
<circle cx="2370" cy="1564.5" r="17.7" fill="#ff0000"/>
<path d="M306 1558.7 L312.2 1558.7 L318.5 1558.7 L324.8 1558.7 L331 1558.7 L337.2 1558.7 L343.5 1558.7 L349.8 1558.7 L356 1558.7 L362.2 1558.7 L368.5 1558.7 L374.8 1558.7 L381 1558.6 L387.2 1558.6 L393.5 1558.6 L399.8 1558.5 L406 1558.5 L412.2 1558.4 L418.5 1558.3 L424.8 1558.2 L431 1558 L437.2 1557.9 L443.5 1557.7 L449.8 1557.6 L456 1557.5 L462 1557.4 L467.9 1557.4 L473.9 1557.3 L479.9 1557.3 L485.8 1557.2 L491.8 1557.1 L497.7 1557.1 L503.7 1557 L510.1 1556.9 L516.6 1556.7 L523 1556.5 L529.4 1556.3 L535.8 1556.2 L542.3 1556 L548.7 1556 L554.7 1556 L560.8 1556 L566.8 1556 L572.9 1556 L578.9 1556 L585 1556 L591 1556 L596.9 1556 L602.9 1555.9 L608.8 1555.8 L614.7 1555.6 L620.6 1555.4 L626.6 1555.2 L632.5 1555 L638.4 1554.8 L644.3 1554.4 L650.2 1554.1 L656 1553.7 L661.9 1553.3 L667.8 1552.9 L673.7 1552.5 L679.6 1552.1 L685.5 1551.8 L691.4 1551.4 L697.3 1551.1 L703.2 1550.7 L709.1 1550.4 L715 1550 L720.9 1549.7 L726.7 1549.3 L732.6 1549 L738.4 1548.6 L744.3 1548.3 L750.1 1547.9 L756 1547.5 L762.3 1547 L768.6 1546.5 L774.9 1546 L781.1 1545.5 L787.4 1544.9 L793.7 1544.3 L800 1543.7 L805.8 1543.1 L811.5 1542.6 L817.2 1542 L823 1541.4 L828.8 1540.8 L834.5 1540.1 L840.2 1539.4 L846 1538.7 L851.2 1538 L856.4 1537.2 L861.7 1536.4 L866.9 1535.5 L872.1 1534.6 L877.3 1533.7 L882.6 1532.8 L887.8 1531.9 L893 1531 L898.6 1530.1 L904.1 1529.1 L909.7 1528.2 L915.2 1527.3 L920.8 1526.3 L926.3 1525.4 L931.9 1524.4 L937.4 1523.5 L943 1522.5 L948.6 1521.6 L954.3 1520.6 L959.9 1519.7 L965.5 1518.8 L971.2 1517.9 L976.8 1516.9 L982.4 1515.9 L988.1 1514.9 L993.7 1513.7 L998.7 1512.6 L1003.7 1511.4 L1008.7 1510.1 L1013.7 1508.8 L1018.7 1507.4 L1023.7 1506 L1028.7 1504.5 L1033.7 1503 L1038.7 1501.5 L1043.7 1500 L1048.5 1498.5 L1053.4 1497 L1058.2 1495.4 L1063 1493.8 L1067.8 1492.2 L1072.7 1490.6 L1077.5 1488.9 L1082.3 1487.2 L1087.2 1485.4 L1092 1483.7 L1096.4 1482.1 L1100.7 1480.6 L1105.1 1479.1 L1109.5 1477.6 L1113.8 1476.1 L1118.2 1474.5 L1122.5 1472.8 L1126.9 1471 L1131.3 1469.2 L1135.6 1467.2 L1140 1465 L1143.5 1463.1 L1146.9 1461.1 L1150.4 1458.9 L1153.8 1456.6 L1157.3 1454.1 L1160.8 1451.6 L1164.2 1448.9 L1167.7 1446.1 L1171.2 1443.2 L1174.6 1440.2 L1178.1 1437.2 L1181.5 1434.1 L1185 1431 L1187.8 1428.4 L1190.7 1425.6 L1193.5 1422.8 L1196.3 1419.9 L1199.2 1416.9 L1202 1413.8 L1204.8 1410.7 L1207.7 1407.4 L1210.5 1404.1 L1213.3 1400.7 L1216.2 1397.2 L1219 1393.6 L1221.8 1390 L1224.7 1386.3 L1227.5 1382.5 L1229.8 1379.3 L1232.1 1376.1 L1234.4 1372.7 L1236.7 1369.2 L1239 1365.6 L1241.3 1361.9 L1243.6 1358.1 L1245.9 1354.3 L1248.2 1350.5 L1250.6 1346.6 L1252.9 1342.6 L1255.2 1338.7 L1257.5 1334.7 L1259.8 1330.7 L1262.1 1326.8 L1264.4 1322.8 L1266.7 1318.9 L1269 1315 L1271.2 1311.2 L1273.4 1307.4 L1275.6 1303.5 L1277.8 1299.5 L1280.1 1295.5 L1282.3 1291.4 L1284.5 1287.4 L1286.7 1283.3 L1288.9 1279.3 L1291.1 1275.2 L1293.3 1271.2 L1295.5 1267.3 L1297.7 1263.4 L1299.9 1259.6 L1302.2 1256 L1304.4 1252.4 L1306.6 1248.9 L1308.8 1245.6 L1311 1242.5 L1313.9 1238.5 L1316.9 1234.7 L1319.8 1230.9 L1322.7 1227.3 L1325.6 1223.8 L1328.6 1220.4 L1331.5 1217.1 L1334.4 1213.8 L1337.4 1210.6 L1340.3 1207.5 L1343.2 1204.3 L1346.1 1201.2 L1349.1 1198.1 L1352 1195 L1355.1 1191.9 L1358.1 1188.9 L1361.2 1186.2 L1364.3 1183.6 L1367.3 1181 L1370.4 1178.5 L1373.5 1176 L1376.5 1173.4 L1379.6 1170.7 L1382.7 1167.9 L1385.7 1164.9 L1388.8 1161.6 L1391.9 1158.1 L1394.9 1154.2 L1398 1150 L1399.6 1147.5 L1401.3 1144.9 L1402.9 1142.1 L1404.5 1139 L1406.2 1135.8 L1407.8 1132.5 L1409.4 1129 L1411.1 1125.3 L1412.7 1121.4 L1414.3 1117.4 L1416 1113.2 L1417.6 1108.9 L1419.2 1104.4 L1420.8 1099.8 L1422.5 1095.1 L1424.1 1090.2 L1425.7 1085.2 L1427.4 1080 L1429 1074.8 L1430.6 1069.4 L1432.3 1063.9 L1433.9 1058.3 L1435.5 1052.6 L1437.2 1046.7 L1438.8 1040.8 L1440.4 1034.8 L1442.1 1028.7 L1443.7 1022.5 L1444.7 1018.5 L1445.7 1014.4 L1446.7 1010 L1447.7 1005.4 L1448.7 1000.6 L1449.7 995.7 L1450.8 990.6 L1451.8 985.3 L1452.8 979.8 L1453.8 974.3 L1454.8 968.5 L1455.8 962.7 L1456.8 956.7 L1457.8 950.7 L1458.8 944.5 L1459.8 938.2 L1460.8 931.9 L1461.8 925.5 L1462.8 919 L1463.8 912.5 L1464.9 905.9 L1465.9 899.3 L1466.9 892.6 L1467.9 885.9 L1468.9 879.3 L1469.9 872.6 L1470.9 865.9 L1471.9 859.2 L1472.9 852.6 L1473.9 846 L1474.9 839.4 L1475.9 832.9 L1476.9 826.5 L1478 820.1 L1479 813.8 L1480 807.5 L1481 801.4 L1482 795.4 L1483 789.5 L1484 783.7 L1485 778 L1486 772.3 L1487 766.5 L1488 760.7 L1489 754.8 L1490 748.9 L1490.9 743 L1491.9 737.1 L1492.9 731.1 L1493.9 725.1 L1494.9 719.1 L1495.9 713.1 L1496.9 707.1 L1497.9 701.2 L1498.9 695.2 L1499.9 689.3 L1500.9 683.3 L1501.9 677.5 L1502.9 671.6 L1503.8 665.8 L1504.8 660 L1505.8 654.3 L1506.8 648.7 L1507.8 643.1 L1508.8 637.6 L1509.8 632.2 L1510.8 626.8 L1511.8 621.5 L1512.8 616.3 L1513.8 611.3 L1514.8 606.3 L1515.8 601.4 L1516.8 596.7 L1517.7 592 L1518.7 587.5 L1519.7 583.1 L1520.7 578.9 L1521.7 574.8 L1522.7 570.8 L1523.7 567 L1525.2 561.7 L1526.6 556.8 L1528.1 552.1 L1529.6 547.7 L1531.1 543.4 L1532.5 539.2 L1534 535 L1535.8 529.8 L1537.6 524.4 L1539.3 519.1 L1541.1 513.8 L1542.9 508.7 L1544.7 503.9 L1546.4 499.4 L1548.2 495.4 L1550 492 L1552.8 486.9 L1555.7 481.9 L1558.5 477.3 L1561.3 473.5 L1564.2 470.9 L1567 470 L1569.6 470.9 L1572.1 473.4 L1574.7 477.1 L1577.3 481.8 L1579.8 487.1 L1582.4 492.6 L1583.5 495.3 L1584.7 498.5 L1585.8 502.1 L1587 506 L1588.1 510.4 L1589.2 515 L1590.4 520 L1591.5 525.2 L1592.6 530.6 L1593.8 536.2 L1594.9 541.9 L1596 547.8 L1597.2 553.7 L1598.3 559.7 L1599.5 565.7 L1600.6 571.7 L1601.4 576.1 L1602.3 580.6 L1603.1 585.2 L1603.9 589.9 L1604.8 594.8 L1605.6 599.8 L1606.4 604.9 L1607.2 610.3 L1608.1 615.8 L1608.9 621.5 L1609.7 627.4 L1610.6 633.6 L1611.4 640 L1611.9 644 L1612.4 648.2 L1612.9 652.6 L1613.4 657.1 L1613.9 661.8 L1614.4 666.5 L1614.9 671.5 L1615.4 676.5 L1615.9 681.7 L1616.4 687 L1616.9 692.4 L1617.4 697.9 L1617.9 703.4 L1618.4 709.1 L1618.9 714.8 L1619.4 720.6 L1619.9 726.5 L1620.4 732.4 L1620.9 738.4 L1621.5 744.4 L1622 750.5 L1622.5 756.6 L1623 762.7 L1623.5 768.8 L1624 774.9 L1624.5 781 L1625 787.1 L1625.5 793.2 L1626 799.3 L1626.5 805.4 L1627 811.4 L1627.5 817.4 L1628 823.3 L1628.5 829.2 L1629 835 L1629.5 840.7 L1630 846.4 L1630.5 852 L1631 857.5 L1631.5 863.3 L1632.1 869.1 L1632.6 875 L1633.1 880.8 L1633.7 886.6 L1634.2 892.5 L1634.8 898.3 L1635.3 904.1 L1635.8 909.9 L1636.4 915.7 L1636.9 921.5 L1637.4 927.3 L1638 933 L1638.5 938.7 L1639 944.5 L1639.6 950.1 L1640.1 955.8 L1640.6 961.5 L1641.2 967.1 L1641.7 972.6 L1642.3 978.2 L1642.8 983.7 L1643.3 989.2 L1643.9 994.6 L1644.4 1000 L1645.3 1009.2 L1646.2 1018.5 L1647.1 1027.9 L1648.1 1037.3 L1649 1046.7 L1649.9 1056.2 L1650.8 1065.8 L1651.7 1075.4 L1652.6 1084.9 L1653.6 1094.5 L1654.5 1104.1 L1655.4 1113.7 L1656.3 1123.2 L1657.2 1132.7 L1658.1 1142.2 L1659 1151.6 L1660 1161 L1660.9 1170.3 L1661.8 1179.5 L1662.7 1188.7 L1663.6 1197.7 L1664.5 1206.7 L1665.4 1215.5 L1666.4 1224.3 L1667.3 1232.8 L1668.2 1241.3 L1669.1 1249.6 L1670 1257.7 L1670.9 1265.7 L1671.8 1273.5 L1672.8 1281.1 L1673.7 1288.6 L1674.6 1295.8 L1675.5 1302.8 L1676.4 1309.6 L1677.3 1316.2 L1678.3 1322.5 L1679.2 1328.6 L1680.1 1334.4 L1681 1340 L1682.1 1346.4 L1683.2 1352.6 L1684.3 1358.6 L1685.4 1364.4 L1686.5 1370.1 L1687.6 1375.5 L1688.7 1380.8 L1689.8 1386 L1690.9 1391 L1692 1395.9 L1693.1 1400.7 L1694.2 1405.3 L1695.3 1409.9 L1696.4 1414.4 L1697.5 1418.8 L1698.6 1423.1 L1699.7 1427.4 L1700.8 1431.6 L1701.9 1435.8 L1703 1440 L1704.5 1445.6 L1705.9 1451.3 L1707.3 1457 L1708.8 1462.7 L1710.2 1468.1 L1711.7 1473.2 L1713.2 1477.8 L1714.6 1481.9 L1716 1485.3 L1717.5 1488 L1720.6 1492.1 L1723.8 1495.1 L1726.9 1497.5 L1730.1 1499.6 L1733.2 1501.9 L1736.4 1504.9 L1739.5 1509 L1741.7 1513.8 L1743.8 1520.1 L1746 1526 L1748 1530.6 L1750 1534.9 L1752 1538 L1755.8 1541.8 L1759.5 1545.1 L1763.2 1547.8 L1767 1550 L1770.8 1551.5 L1774.5 1552.5 L1780.1 1553.4 L1785.8 1554.2 L1791.4 1554.9 L1797 1555.5 L1802.6 1556 L1808.2 1556.3 L1813.9 1556.5 L1819.5 1556.6 L1831.1 1556.6 L1842.6 1556.6 L1854.2 1556.6 L1865.8 1556.6 L1877.3 1556.7 L1888.9 1556.7 L1900.4 1556.7 L1912 1556.7 L1923.6 1556.7 L1935.1 1556.7 L1946.7 1556.7 L1958.2 1556.7 L1969.8 1556.7 L1981.4 1556.7 L1992.9 1556.7 L2004.5 1556.7 L2016.1 1556.7 L2027.6 1556.7 L2039.2 1556.7 L2050.8 1556.7 L2062.3 1556.7 L2073.9 1556.7 L2085.4 1556.7 L2097 1556.7 L2108.6 1556.7 L2120.1 1556.7 L2131.7 1556.7 L2143.2 1556.7 L2154.8 1556.7 L2166.4 1556.7 L2177.9 1556.7 L2189.5 1556.7 L2201.1 1556.7 L2212.6 1556.7 L2224.2 1556.7 L2235.8 1556.8 L2247.3 1556.8 L2258.9 1556.8 L2270.4 1556.8 L2282 1556.8 L2287 1557.6 L2292 1559.2 L2297 1560.9 L2302 1561.8 L2308.4 1562 L2314.7 1562.2 L2321.1 1562.3 L2327.5 1562.4 L2333.8 1562.5 L2340.2 1562.6 L2346.5 1562.7 L2352.9 1562.7 L2359.3 1562.8 L2365.6 1562.8 L2372 1562.8" fill="none" stroke="#0000ff" stroke-width="6.6" stroke-linejoin="round"/>
<polygon points="306,1533.1 283.8,1571.5 328.2,1571.5" fill="#0000ff"/>
<polygon points="356,1533.1 333.8,1571.5 378.2,1571.5" fill="#0000ff"/>
<polygon points="406,1532.9 383.8,1571.3 428.2,1571.3" fill="#0000ff"/>
<polygon points="456,1531.9 433.8,1570.3 478.2,1570.3" fill="#0000ff"/>
<polygon points="503.7,1531.4 481.5,1569.8 525.9,1569.8" fill="#0000ff"/>
<polygon points="548.7,1530.4 526.5,1568.8 570.9,1568.8" fill="#0000ff"/>
<polygon points="591,1530.4 568.8,1568.8 613.2,1568.8" fill="#0000ff"/>
<polygon points="632.5,1529.4 610.3,1567.8 654.7,1567.8" fill="#0000ff"/>
<polygon points="673.7,1526.9 651.5,1565.3 695.9,1565.3" fill="#0000ff"/>
<polygon points="715,1524.4 692.8,1562.8 737.2,1562.8" fill="#0000ff"/>
<polygon points="756,1521.9 733.8,1560.3 778.2,1560.3" fill="#0000ff"/>
<polygon points="800,1518.1 777.8,1556.5 822.2,1556.5" fill="#0000ff"/>
<polygon points="846,1513.1 823.8,1551.5 868.2,1551.5" fill="#0000ff"/>
<polygon points="893,1505.4 870.8,1543.8 915.2,1543.8" fill="#0000ff"/>
<polygon points="943,1496.9 920.8,1535.3 965.2,1535.3" fill="#0000ff"/>
<polygon points="993.7,1488.1 971.5,1526.5 1015.9,1526.5" fill="#0000ff"/>
<polygon points="1043.7,1474.4 1021.5,1512.8 1065.9,1512.8" fill="#0000ff"/>
<polygon points="1092,1458.1 1069.8,1496.5 1114.2,1496.5" fill="#0000ff"/>
<polygon points="1140,1439.4 1117.8,1477.8 1162.2,1477.8" fill="#0000ff"/>
<polygon points="1185,1405.4 1162.8,1443.8 1207.2,1443.8" fill="#0000ff"/>
<polygon points="1227.5,1356.9 1205.3,1395.3 1249.7,1395.3" fill="#0000ff"/>
<polygon points="1269,1289.4 1246.8,1327.8 1291.2,1327.8" fill="#0000ff"/>
<polygon points="1311,1216.9 1288.8,1255.3 1333.2,1255.3" fill="#0000ff"/>
<polygon points="1352,1169.4 1329.8,1207.8 1374.2,1207.8" fill="#0000ff"/>
<polygon points="1398,1124.4 1375.8,1162.8 1420.2,1162.8" fill="#0000ff"/>
<polygon points="1443.7,996.9 1421.5,1035.3 1465.9,1035.3" fill="#0000ff"/>
<polygon points="1484,758.1 1461.8,796.5 1506.2,796.5" fill="#0000ff"/>
<polygon points="1534,509.4 1511.8,547.8 1556.2,547.8" fill="#0000ff"/>
<polygon points="1582.4,467 1560.2,505.4 1604.6,505.4" fill="#0000ff"/>
<polygon points="1631,831.9 1608.8,870.3 1653.2,870.3" fill="#0000ff"/>
<polygon points="1681,1314.4 1658.8,1352.8 1703.2,1352.8" fill="#0000ff"/>
<polygon points="1774.5,1526.9 1752.3,1565.3 1796.7,1565.3" fill="#0000ff"/>
<polygon points="1819.5,1531 1797.3,1569.4 1841.7,1569.4" fill="#0000ff"/>
<polygon points="1862,1531 1839.8,1569.5 1884.2,1569.5" fill="#0000ff"/>
<polygon points="1904.5,1531 1882.3,1569.5 1926.7,1569.5" fill="#0000ff"/>
<polygon points="1947.5,1531.1 1925.3,1569.5 1969.7,1569.5" fill="#0000ff"/>
<polygon points="1992,1531.1 1969.8,1569.5 2014.2,1569.5" fill="#0000ff"/>
<polygon points="2037.5,1531.1 2015.3,1569.5 2059.7,1569.5" fill="#0000ff"/>
<polygon points="2085.5,1531.1 2063.3,1569.5 2107.7,1569.5" fill="#0000ff"/>
<polygon points="2133.5,1531.1 2111.3,1569.5 2155.7,1569.5" fill="#0000ff"/>
<polygon points="2181.5,1531.1 2159.3,1569.5 2203.7,1569.5" fill="#0000ff"/>
<polygon points="2228,1531.1 2205.8,1569.6 2250.2,1569.6" fill="#0000ff"/>
<polygon points="2274,1531.2 2251.8,1569.6 2296.2,1569.6" fill="#0000ff"/>
<polygon points="2319,1536.6 2296.8,1575.1 2341.2,1575.1" fill="#0000ff"/>
<polygon points="2362.7,1537.2 2340.5,1575.6 2384.9,1575.6" fill="#0000ff"/>
<path d="M306 1553.5 L312.6 1553.5 L319.2 1553.5 L325.8 1553.5 L332.4 1553.5 L339 1553.5 L345.6 1553.5 L352.2 1553.5 L358.8 1553.5 L365.4 1553.5 L372 1553.5 L378.6 1553.5 L385.2 1553.5 L391.8 1553.5 L398.4 1553.5 L405 1553.5 L411.6 1553.5 L418.2 1553.5 L424.8 1553.5 L431.4 1553.5 L438 1553.5 L444.6 1553.5 L451.2 1553.5 L457.8 1553.5 L464.4 1553.5 L471 1553.5 L477.6 1553.5 L484.2 1553.5 L490.8 1553.5 L497.4 1553.5 L504 1553.5 L510.6 1553.5 L517.2 1553.5 L523.8 1553.5 L530.4 1553.5 L537 1553.5 L543.6 1553.5 L550.2 1553.5 L556.8 1553.5 L563.4 1553.5 L570 1553.5 L576.6 1553.4 L583.1 1553.3 L589.7 1553.1 L596.3 1552.8 L602.9 1552.5 L609.4 1552.3 L616 1552 L621.9 1551.8 L627.8 1551.5 L633.6 1551.3 L639.5 1551 L645.4 1550.7 L651.2 1550.5 L657.1 1550.2 L663 1550 L668.9 1549.8 L674.8 1549.6 L680.6 1549.4 L686.5 1549.2 L692.4 1549.1 L698.2 1548.9 L704.1 1548.7 L710 1548.5 L715.9 1548.3 L721.8 1548 L727.6 1547.8 L733.5 1547.5 L739.4 1547.3 L745.2 1547 L751.1 1546.8 L757 1546.5 L762.9 1546.3 L768.8 1546 L774.6 1545.8 L780.5 1545.5 L786.4 1545.3 L792.2 1545 L798.1 1544.8 L804 1544.5 L809.9 1544.2 L815.8 1544 L821.6 1543.7 L827.5 1543.4 L833.4 1543.1 L839.2 1542.8 L845.1 1542.4 L851 1542 L856.9 1541.6 L862.8 1541 L868.6 1540.5 L874.5 1539.9 L880.4 1539.2 L886.2 1538.5 L892.1 1537.8 L898 1537 L903.2 1536.3 L908.4 1535.5 L913.7 1534.7 L918.9 1533.9 L924.1 1533 L929.3 1532.1 L934.6 1531.1 L939.8 1530.1 L945 1529 L949.7 1528 L954.4 1526.9 L959.1 1525.7 L963.8 1524.5 L968.5 1523.2 L973.2 1521.9 L977.9 1520.5 L982.6 1519 L987.3 1517.5 L992 1516 L996.3 1514.5 L1000.6 1512.8 L1005 1511 L1009.3 1509.2 L1013.6 1507.3 L1017.9 1505.3 L1022.2 1503.3 L1026.5 1501.4 L1030.9 1499.5 L1035.2 1497.7 L1039.5 1496 L1044.2 1494.3 L1049 1492.6 L1053.8 1491 L1058.5 1489.5 L1063.2 1488 L1068 1486.4 L1072.8 1484.8 L1077.5 1483.2 L1082.2 1481.4 L1087 1479.5 L1091 1477.8 L1094.9 1476 L1098.9 1474.1 L1102.8 1472.2 L1106.8 1470.1 L1110.8 1468 L1114.7 1465.9 L1118.7 1463.7 L1122.6 1461.4 L1126.6 1459.1 L1130.5 1456.8 L1134.5 1454.5 L1138.1 1452.4 L1141.7 1450.2 L1145.2 1447.9 L1148.8 1445.6 L1152.4 1443.3 L1156 1440.9 L1159.5 1438.5 L1163.1 1436 L1166.7 1433.5 L1170.3 1431 L1173.8 1428.4 L1177.4 1425.7 L1181 1423 L1184.4 1420.4 L1187.8 1417.7 L1191.3 1415 L1194.7 1412.3 L1198.1 1409.5 L1201.5 1406.6 L1205 1403.7 L1208.4 1400.7 L1211.8 1397.6 L1215.2 1394.5 L1218.7 1391.3 L1222.1 1387.9 L1225.5 1384.5 L1228.2 1381.7 L1230.9 1378.8 L1233.7 1375.8 L1236.4 1372.8 L1239.1 1369.7 L1241.8 1366.5 L1244.5 1363.2 L1247.2 1359.9 L1250 1356.5 L1252.7 1353 L1255.4 1349.5 L1258.1 1345.9 L1260.8 1342.3 L1263.6 1338.6 L1266.3 1334.8 L1269 1331 L1271.3 1327.7 L1273.7 1324.2 L1276 1320.7 L1278.3 1317.1 L1280.7 1313.5 L1283 1309.7 L1285.3 1305.9 L1287.7 1302.1 L1290 1298.2 L1292.3 1294.2 L1294.7 1290.2 L1297 1286.2 L1299.3 1282.2 L1301.7 1278.2 L1304 1274.1 L1306.3 1270.1 L1308.7 1266 L1311 1262 L1313.2 1258.1 L1315.4 1254.1 L1317.7 1250.1 L1319.9 1245.9 L1322.1 1241.7 L1324.3 1237.5 L1326.6 1233.2 L1328.8 1229 L1331 1224.7 L1333.2 1220.5 L1335.4 1216.3 L1337.7 1212.2 L1339.9 1208.1 L1342.1 1204.2 L1344.3 1200.3 L1346.6 1196.6 L1348.8 1193 L1351 1189.5 L1353.7 1185.5 L1356.4 1181.6 L1359.2 1177.9 L1361.9 1174.3 L1364.6 1170.8 L1367.3 1167.4 L1370.1 1164.1 L1372.8 1160.8 L1375.5 1157.6 L1378.2 1154.3 L1380.9 1151.1 L1383.7 1147.8 L1386.4 1144.4 L1389.1 1141 L1391.8 1137.5 L1394.6 1133.8 L1397.3 1130 L1400 1126 L1402.2 1122.7 L1404.4 1119.4 L1406.6 1116 L1408.7 1112.6 L1410.9 1109.1 L1413.1 1105.5 L1415.3 1101.9 L1417.5 1098.3 L1419.7 1094.6 L1421.8 1090.8 L1424 1087 L1426.2 1083.1 L1428.4 1079.1 L1430.6 1075.1 L1432.8 1071 L1435 1066.8 L1437.1 1062.6 L1439.3 1058.3 L1441.5 1053.9 L1443.7 1049.5 L1445.4 1045.9 L1447.2 1042.3 L1448.9 1038.6 L1450.6 1034.8 L1452.4 1031 L1454.1 1027.1 L1455.8 1023.1 L1457.5 1019.1 L1459.3 1015 L1461 1010.9 L1462.7 1006.7 L1464.5 1002.5 L1466.2 998.2 L1467.9 993.9 L1469.7 989.5 L1471.4 985 L1473.1 980.5 L1474.9 976 L1476.6 971.4 L1478.3 966.8 L1480 962.1 L1481.8 957.4 L1483.5 952.6 L1485.2 947.8 L1487 942.9 L1488.7 938 L1490.1 934 L1491.5 929.9 L1492.9 925.7 L1494.3 921.4 L1495.7 917.1 L1497.2 912.8 L1498.6 908.4 L1500 903.9 L1501.4 899.4 L1502.8 894.9 L1504.2 890.3 L1505.6 885.6 L1507 880.9 L1508.4 876.2 L1509.8 871.4 L1511.2 866.7 L1512.6 861.8 L1514.1 857 L1515.5 852.1 L1516.9 847.2 L1518.3 842.3 L1519.7 837.3 L1521.1 832.4 L1522.5 827.4 L1523.9 822.4 L1525.3 817.4 L1526.7 812.4 L1528.1 807.4 L1529.5 802.4 L1531 797.4 L1532.4 792.4 L1533.8 787.4 L1535.2 782.4 L1536.6 777.5 L1538 772.5 L1539.3 767.9 L1540.6 763.3 L1541.9 758.5 L1543.1 753.7 L1544.4 748.8 L1545.7 743.8 L1547 738.7 L1548.3 733.6 L1549.6 728.5 L1550.8 723.3 L1552.1 718.1 L1553.4 712.9 L1554.7 707.6 L1556 702.4 L1557.3 697.1 L1558.5 691.9 L1559.8 686.6 L1561.1 681.4 L1562.4 676.3 L1563.7 671.1 L1565 666 L1566.2 661 L1567.5 656 L1568.8 651.1 L1570.1 646.3 L1571.4 641.5 L1572.7 636.9 L1573.9 632.3 L1575.2 627.9 L1576.5 623.5 L1577.8 619.3 L1579.1 615.2 L1580.4 611.3 L1581.6 607.5 L1582.9 603.8 L1584.2 600.3 L1585.5 597 L1587.8 591.2 L1590.1 585.6 L1592.4 580.6 L1594.7 576.3 L1597 573 L1600.3 569.2 L1603.7 566.2 L1607 565 L1609.8 566.5 L1612.5 570.5 L1615.2 575.9 L1618 582 L1619.2 584.9 L1620.4 588.5 L1621.5 592.5 L1622.7 597 L1623.9 601.8 L1625.1 607 L1626.3 612.4 L1627.5 618 L1628.6 623.6 L1629.8 629.3 L1631 635 L1631.9 639.1 L1632.7 643.3 L1633.6 647.4 L1634.5 651.5 L1635.4 655.7 L1636.2 659.9 L1637.1 664.2 L1638 668.5 L1638.8 672.9 L1639.7 677.3 L1640.6 681.8 L1641.5 686.4 L1642.3 691.1 L1643.2 696 L1644.1 700.9 L1644.9 705.9 L1645.8 711.1 L1646.7 716.5 L1647.6 722 L1648.4 727.7 L1649.3 733.5 L1650.2 739.5 L1651 745.7 L1651.9 752.1 L1652.8 758.8 L1653.7 765.6 L1654.5 772.7 L1655.4 780 L1655.8 783.6 L1656.2 787.5 L1656.6 791.7 L1657 796.1 L1657.5 800.7 L1657.9 805.6 L1658.3 810.6 L1658.7 815.9 L1659.1 821.3 L1659.5 826.9 L1659.9 832.6 L1660.3 838.5 L1660.7 844.4 L1661.1 850.5 L1661.6 856.7 L1662 863 L1662.4 869.3 L1662.8 875.7 L1663.2 882.2 L1663.6 888.7 L1664 895.2 L1664.4 901.7 L1664.8 908.1 L1665.2 914.6 L1665.7 921 L1666.1 927.4 L1666.5 933.8 L1666.9 940 L1667.3 946.2 L1667.7 952.2 L1668.1 958.2 L1668.5 964 L1668.9 969.6 L1669.3 975.2 L1669.8 980.5 L1670.2 985.7 L1670.6 990.7 L1671 995.4 L1671.4 1000 L1672 1006.4 L1672.6 1012.5 L1673.2 1018.3 L1673.8 1024 L1674.4 1029.5 L1675 1034.9 L1675.6 1040.2 L1676.2 1045.4 L1676.8 1050.5 L1677.4 1055.7 L1678 1060.8 L1678.6 1066.1 L1679.2 1071.4 L1679.8 1076.8 L1680.4 1082.3 L1681 1088 L1681.6 1093.5 L1682.1 1099.2 L1682.7 1105.1 L1683.2 1111 L1683.8 1117 L1684.4 1123.1 L1684.9 1129.2 L1685.5 1135.2 L1686.1 1141.3 L1686.6 1147.2 L1687.2 1153.1 L1687.8 1158.9 L1688.3 1164.4 L1688.9 1169.9 L1689.4 1175 L1690 1180 L1690.8 1186.4 L1691.5 1192.6 L1692.3 1198.7 L1693 1204.5 L1693.8 1210.2 L1694.6 1215.8 L1695.3 1221.2 L1696.1 1226.6 L1696.8 1231.8 L1697.6 1237 L1698.4 1242.1 L1699.1 1247.2 L1699.9 1252.3 L1700.7 1257.3 L1701.4 1262.4 L1702.2 1267.5 L1702.9 1272.6 L1703.7 1277.8 L1704.5 1283 L1705.2 1288.3 L1706 1293.8 L1706.7 1299.3 L1707.5 1305 L1708.2 1310.2 L1708.9 1315.4 L1709.6 1320.6 L1710.3 1325.8 L1711 1331 L1711.7 1336.2 L1712.4 1341.4 L1713.1 1346.7 L1713.8 1352.1 L1714.4 1357.5 L1715.1 1363 L1715.8 1368.6 L1716.5 1374.3 L1717.2 1380.1 L1717.9 1386.1 L1718.6 1392.2 L1719.3 1398.5 L1720 1405 L1720.5 1410.1 L1721 1415.6 L1721.5 1421.5 L1722 1427.7 L1722.6 1434.1 L1723.1 1440.7 L1723.6 1447.4 L1724.1 1454 L1724.6 1460.7 L1725.1 1467.1 L1725.6 1473.4 L1726.1 1479.5 L1726.7 1485.1 L1727.2 1490.4 L1727.7 1495.2 L1728.2 1499.4 L1728.7 1503 L1729.9 1510.4 L1731.1 1517.3 L1732.3 1523.6 L1733.4 1529.1 L1734.6 1533.8 L1735.8 1537.5 L1737 1540 L1740.2 1544.7 L1743.5 1548.2 L1746.8 1550.7 L1750 1552 L1756.2 1553.3 L1762.5 1554.2 L1768.8 1554.8 L1775 1555 L1787.7 1555 L1800.3 1555 L1813 1555 L1825.7 1555 L1838.4 1555 L1851 1555 L1863.7 1555 L1876.4 1555 L1889.1 1555 L1901.8 1555 L1914.4 1555 L1927.1 1555 L1939.8 1555 L1952.5 1555 L1965.1 1555 L1977.8 1555 L1990.5 1555 L2003.2 1555 L2015.8 1555 L2028.5 1555 L2041.2 1555 L2053.8 1555 L2066.5 1555 L2079.2 1555 L2091.9 1555 L2104.6 1555 L2117.2 1555 L2129.9 1555 L2142.6 1555 L2155.2 1555 L2167.9 1555 L2180.6 1555 L2193.3 1555 L2205.9 1555 L2218.6 1555 L2231.3 1555 L2244 1555 L2256.7 1555 L2269.3 1555 L2282 1555 L2287 1555.8 L2292 1557.4 L2297 1559.1 L2302 1560 L2308.4 1560.2 L2314.7 1560.4 L2321.1 1560.5 L2327.5 1560.6 L2333.8 1560.7 L2340.2 1560.8 L2346.5 1560.9 L2352.9 1560.9 L2359.3 1561 L2365.6 1561 L2372 1561" fill="none" stroke="#808000" stroke-width="6.6" stroke-linejoin="round"/>
<polygon points="306,1579.1 283.8,1540.7 328.2,1540.7" fill="#808000"/>
<polygon points="332,1579.1 309.8,1540.7 354.2,1540.7" fill="#808000"/>
<polygon points="379.1,1579.1 356.9,1540.7 401.3,1540.7" fill="#808000"/>
<polygon points="426.3,1579.1 404.1,1540.7 448.5,1540.7" fill="#808000"/>
<polygon points="473.4,1579.1 451.2,1540.7 495.6,1540.7" fill="#808000"/>
<polygon points="520.6,1579.1 498.4,1540.7 542.8,1540.7" fill="#808000"/>
<polygon points="567.7,1579.1 545.5,1540.7 589.9,1540.7" fill="#808000"/>
<polygon points="614.9,1577.7 592.7,1539.2 637.1,1539.2" fill="#808000"/>
<polygon points="662,1575.7 639.8,1537.2 684.2,1537.2" fill="#808000"/>
<polygon points="709.1,1574.2 686.9,1535.7 731.3,1535.7" fill="#808000"/>
<polygon points="756.3,1572.2 734.1,1533.7 778.5,1533.7" fill="#808000"/>
<polygon points="803.4,1570.2 781.2,1531.7 825.6,1531.7" fill="#808000"/>
<polygon points="850.6,1567.7 828.4,1529.2 872.8,1529.2" fill="#808000"/>
<polygon points="897.7,1562.7 875.5,1524.2 919.9,1524.2" fill="#808000"/>
<polygon points="944.9,1554.7 922.7,1516.2 967.1,1516.2" fill="#808000"/>
<polygon points="992,1541.6 969.8,1503.2 1014.2,1503.2" fill="#808000"/>
<polygon points="1039.5,1521.6 1017.3,1483.2 1061.7,1483.2" fill="#808000"/>
<polygon points="1087,1505.1 1064.8,1466.7 1109.2,1466.7" fill="#808000"/>
<polygon points="1134.5,1480.1 1112.3,1441.7 1156.7,1441.7" fill="#808000"/>
<polygon points="1181,1448.6 1158.8,1410.2 1203.2,1410.2" fill="#808000"/>
<polygon points="1225.5,1410.1 1203.3,1371.7 1247.7,1371.7" fill="#808000"/>
<polygon points="1269,1356.6 1246.8,1318.2 1291.2,1318.2" fill="#808000"/>
<polygon points="1311,1287.6 1288.8,1249.2 1333.2,1249.2" fill="#808000"/>
<polygon points="1351,1215.1 1328.8,1176.7 1373.2,1176.7" fill="#808000"/>
<polygon points="1400,1151.6 1377.8,1113.2 1422.2,1113.2" fill="#808000"/>
<polygon points="1443.7,1075.1 1421.5,1036.7 1465.9,1036.7" fill="#808000"/>
<polygon points="1488.7,963.6 1466.5,925.2 1510.9,925.2" fill="#808000"/>
<polygon points="1538,798.1 1515.8,759.7 1560.2,759.7" fill="#808000"/>
<polygon points="1585.5,622.6 1563.3,584.2 1607.7,584.2" fill="#808000"/>
<polygon points="1631,660.6 1608.8,622.2 1653.2,622.2" fill="#808000"/>
<polygon points="1681,1113.6 1658.8,1075.2 1703.2,1075.2" fill="#808000"/>
<polygon points="1728.7,1528.6 1706.5,1490.2 1750.9,1490.2" fill="#808000"/>
<polygon points="1775,1580.6 1752.8,1542.2 1797.2,1542.2" fill="#808000"/>
<polygon points="1820.5,1580.6 1798.3,1542.2 1842.7,1542.2" fill="#808000"/>
<polygon points="1865.9,1580.6 1843.7,1542.2 1888.1,1542.2" fill="#808000"/>
<polygon points="1911.4,1580.6 1889.2,1542.2 1933.6,1542.2" fill="#808000"/>
<polygon points="1956.8,1580.6 1934.6,1542.2 1979,1542.2" fill="#808000"/>
<polygon points="2002.3,1580.6 1980.1,1542.2 2024.5,1542.2" fill="#808000"/>
<polygon points="2047.8,1580.6 2025.6,1542.2 2070,1542.2" fill="#808000"/>
<polygon points="2093.2,1580.6 2071,1542.2 2115.4,1542.2" fill="#808000"/>
<polygon points="2138.7,1580.6 2116.5,1542.2 2160.9,1542.2" fill="#808000"/>
<polygon points="2184.2,1580.6 2162,1542.2 2206.4,1542.2" fill="#808000"/>
<polygon points="2229.6,1580.6 2207.4,1542.2 2251.8,1542.2" fill="#808000"/>
<polygon points="2275.1,1580.6 2252.9,1542.2 2297.3,1542.2" fill="#808000"/>
<polygon points="2320.5,1586.1 2298.3,1547.7 2342.7,1547.7" fill="#808000"/>
<polygon points="2366,1586.6 2343.8,1548.2 2388.2,1548.2" fill="#808000"/>
<path d="M306 1554.5 L312.6 1554.5 L319.2 1554.5 L325.8 1554.5 L332.4 1554.5 L339 1554.5 L345.6 1554.5 L352.2 1554.5 L358.8 1554.5 L365.4 1554.5 L372 1554.5 L378.6 1554.5 L385.2 1554.5 L391.8 1554.5 L398.4 1554.5 L405 1554.5 L411.6 1554.5 L418.2 1554.5 L424.8 1554.5 L431.4 1554.5 L438 1554.5 L444.6 1554.5 L451.2 1554.5 L457.8 1554.5 L464.4 1554.5 L471 1554.5 L477.6 1554.5 L484.2 1554.5 L490.8 1554.5 L497.4 1554.5 L504 1554.5 L510.6 1554.5 L517.2 1554.5 L523.8 1554.5 L530.4 1554.5 L537 1554.5 L543.6 1554.5 L550.2 1554.5 L556.8 1554.5 L563.4 1554.5 L570 1554.5 L576.1 1554.5 L582.1 1554.4 L588.2 1554.4 L594.3 1554.3 L600.4 1554.2 L606.4 1554.1 L612.5 1554 L618.6 1553.9 L624.6 1553.8 L630.7 1553.6 L636.8 1553.5 L642.9 1553.3 L648.9 1553.2 L655 1553 L661.4 1552.8 L667.9 1552.6 L674.3 1552.4 L680.7 1552.2 L687.1 1551.9 L693.6 1551.7 L700 1551.5 L706.4 1551.3 L712.9 1551.1 L719.3 1550.9 L725.7 1550.7 L732.1 1550.5 L738.6 1550.3 L745 1550 L750.8 1549.8 L756.5 1549.5 L762.2 1549.2 L768 1548.9 L773.8 1548.6 L779.5 1548.3 L785.2 1547.9 L791 1547.5 L796.8 1547.1 L802.6 1546.6 L808.4 1546.1 L814.2 1545.5 L820.1 1545 L825.9 1544.3 L831.7 1543.7 L837.5 1543 L843 1542.3 L848.5 1541.5 L854 1540.7 L859.5 1539.8 L865 1538.8 L870.5 1537.9 L876 1536.9 L881.5 1536 L887 1535 L892.5 1534.1 L898 1533.1 L903.5 1532.1 L909 1531.1 L914.5 1530.1 L920 1529.1 L925.5 1528.1 L931 1527 L936.5 1526 L942 1524.9 L947.5 1523.8 L953 1522.7 L958.5 1521.6 L964 1520.5 L969.5 1519.4 L975 1518.2 L980.5 1517.1 L986 1516 L991.6 1514.9 L997.1 1513.8 L1002.7 1512.6 L1008.2 1511.5 L1013.8 1510.4 L1019.4 1509.3 L1024.9 1508.1 L1030.5 1507 L1036.1 1505.9 L1041.6 1504.8 L1047.2 1503.8 L1052.8 1502.7 L1058.3 1501.6 L1063.9 1500.5 L1069.4 1499.3 L1075 1498 L1079.9 1496.8 L1084.9 1495.5 L1089.8 1494.1 L1094.8 1492.7 L1099.7 1491.3 L1104.7 1489.8 L1109.6 1488.2 L1114.6 1486.6 L1119.5 1485 L1124 1483.5 L1128.4 1482 L1132.8 1480.4 L1137.3 1478.8 L1141.8 1477.2 L1146.2 1475.5 L1150.7 1473.7 L1155.1 1471.9 L1159.5 1470 L1164 1468 L1168 1466.1 L1172.1 1464.2 L1176.1 1462.2 L1180.2 1460.2 L1184.2 1458 L1188.3 1455.8 L1192.3 1453.5 L1196.4 1451 L1200.4 1448.5 L1204.5 1445.8 L1208.5 1443 L1211.7 1440.7 L1214.9 1438.2 L1218 1435.5 L1221.2 1432.8 L1224.4 1429.9 L1227.6 1426.9 L1230.8 1423.8 L1233.9 1420.6 L1237.1 1417.3 L1240.3 1414 L1243.5 1410.6 L1246.6 1407.1 L1249.8 1403.6 L1253 1400 L1255.6 1397 L1258.2 1394 L1260.9 1390.9 L1263.5 1387.8 L1266.1 1384.6 L1268.7 1381.3 L1271.3 1377.9 L1273.9 1374.5 L1276.6 1371 L1279.2 1367.5 L1281.8 1363.8 L1284.4 1360.1 L1287 1356.2 L1289.6 1352.3 L1292.3 1348.3 L1294.9 1344.2 L1297.5 1340 L1299.5 1336.7 L1301.5 1333.3 L1303.4 1329.9 L1305.4 1326.3 L1307.4 1322.6 L1309.4 1318.8 L1311.3 1315 L1313.3 1311 L1315.3 1307 L1317.3 1303 L1319.2 1298.8 L1321.2 1294.6 L1323.2 1290.4 L1325.2 1286.1 L1327.2 1281.8 L1329.1 1277.5 L1331.1 1273.1 L1333.1 1268.7 L1335.1 1264.3 L1337 1259.9 L1339 1255.4 L1341 1251 L1342.7 1247.1 L1344.5 1243.1 L1346.2 1239.1 L1348 1235 L1349.7 1231 L1351.4 1226.8 L1353.2 1222.6 L1354.9 1218.4 L1356.7 1214.2 L1358.4 1209.9 L1360.1 1205.6 L1361.9 1201.3 L1363.6 1197 L1365.4 1192.6 L1367.1 1188.2 L1368.9 1183.8 L1370.6 1179.4 L1372.3 1174.9 L1374.1 1170.5 L1375.8 1166 L1377.6 1161.5 L1379.3 1157 L1381 1152.5 L1382.8 1148 L1384.5 1143.5 L1386.3 1139 L1388 1134.5 L1389.6 1130.3 L1391.2 1126.1 L1392.9 1121.8 L1394.5 1117.6 L1396.1 1113.3 L1397.7 1109 L1399.3 1104.7 L1401 1100.4 L1402.6 1096 L1404.2 1091.7 L1405.8 1087.3 L1407.4 1083 L1409.1 1078.6 L1410.7 1074.2 L1412.3 1069.8 L1413.9 1065.4 L1415.6 1060.9 L1417.2 1056.5 L1418.8 1052.1 L1420.4 1047.6 L1422 1043.2 L1423.7 1038.7 L1425.3 1034.3 L1426.9 1029.8 L1428.5 1025.3 L1430.1 1020.9 L1431.8 1016.4 L1433.4 1012 L1435 1007.5 L1436.6 1003 L1438.2 998.6 L1439.9 994.1 L1441.5 989.7 L1443.1 985.3 L1444.7 980.8 L1446.4 976.4 L1448 971.9 L1449.6 967.5 L1451.2 963 L1452.9 958.6 L1454.5 954.1 L1456.1 949.7 L1457.7 945.2 L1459.3 940.7 L1461 936.2 L1462.6 931.7 L1464.2 927.1 L1465.8 922.6 L1467.5 918 L1469.1 913.4 L1470.7 908.8 L1472.3 904.2 L1474 899.5 L1475.6 894.9 L1477.2 890.1 L1478.8 885.4 L1480.5 880.6 L1482.1 875.8 L1483.7 871 L1485.2 866.6 L1486.6 862.2 L1488.1 857.8 L1489.6 853.4 L1491 849 L1492.5 844.6 L1494 840.1 L1495.4 835.7 L1496.9 831.2 L1498.3 826.7 L1499.8 822.2 L1501.3 817.7 L1502.7 813.2 L1504.2 808.6 L1505.7 804 L1507.1 799.4 L1508.6 794.8 L1510.1 790.2 L1511.5 785.5 L1513 780.8 L1514.5 776 L1515.9 771.3 L1517.4 766.5 L1518.9 761.7 L1520.3 756.8 L1521.8 751.9 L1523.2 747 L1524.7 742.1 L1526.2 737.1 L1527.6 732 L1529.1 727 L1530.6 721.8 L1532 716.7 L1533.5 711.5 L1534.7 707.1 L1535.9 702.5 L1537.2 697.8 L1538.4 692.9 L1539.6 687.9 L1540.8 682.8 L1542.1 677.6 L1543.3 672.4 L1544.5 667 L1545.7 661.6 L1546.9 656.2 L1548.2 650.7 L1549.4 645.1 L1550.6 639.6 L1551.8 634.1 L1553.1 628.5 L1554.3 623 L1555.5 617.5 L1556.7 612 L1557.9 606.6 L1559.2 601.2 L1560.4 596 L1561.6 590.8 L1562.8 585.7 L1564.1 580.7 L1565.3 575.8 L1566.5 571 L1567.7 566.4 L1568.9 562 L1570.2 557.7 L1571.4 553.6 L1572.6 549.6 L1573.8 545.9 L1575.1 542.4 L1576.3 539.1 L1577.5 536 L1579.8 530.4 L1582.1 525.1 L1584.4 520.4 L1586.7 516.6 L1589 514 L1594.5 510.2 L1600 508.5 L1602.8 510 L1605.5 513.8 L1608.2 519.1 L1611 525 L1612.2 527.9 L1613.5 531.3 L1614.8 535.2 L1616 539.4 L1617.2 544.1 L1618.5 549.1 L1619.8 554.3 L1621 559.9 L1622.2 565.7 L1623.5 571.6 L1624.8 577.8 L1626 584 L1626.7 587.5 L1627.4 591.1 L1628.1 594.7 L1628.8 598.4 L1629.5 602.1 L1630.2 605.8 L1630.9 609.7 L1631.6 613.5 L1632.3 617.5 L1633 621.5 L1633.7 625.6 L1634.4 629.8 L1635.1 634.1 L1635.8 638.5 L1636.5 643 L1637.2 647.6 L1637.9 652.3 L1638.6 657.1 L1639.4 662.1 L1640.1 667.2 L1640.8 672.4 L1641.5 677.8 L1642.2 683.4 L1642.9 689.1 L1643.6 694.9 L1644.3 700.9 L1645 707.1 L1645.7 713.5 L1646.4 720.1 L1647.1 726.8 L1647.8 733.8 L1648.5 741 L1649.2 748.3 L1649.9 755.9 L1650.6 763.7 L1651.3 771.7 L1652 780 L1652.3 783.4 L1652.5 787.2 L1652.8 791.3 L1653.1 795.7 L1653.4 800.3 L1653.6 805.3 L1653.9 810.5 L1654.2 815.9 L1654.5 821.5 L1654.7 827.3 L1655 833.3 L1655.3 839.5 L1655.6 845.8 L1655.8 852.2 L1656.1 858.8 L1656.4 865.4 L1656.7 872.1 L1656.9 878.9 L1657.2 885.7 L1657.5 892.5 L1657.7 899.4 L1658 906.2 L1658.3 913 L1658.6 919.8 L1658.8 926.5 L1659.1 933.1 L1659.4 939.6 L1659.7 946 L1659.9 952.3 L1660.2 958.4 L1660.5 964.4 L1660.8 970.1 L1661 975.7 L1661.3 981.1 L1661.6 986.2 L1661.9 991.1 L1662.1 995.7 L1662.4 1000 L1662.9 1007.1 L1663.4 1013.8 L1663.8 1020.1 L1664.3 1026.1 L1664.8 1031.8 L1665.3 1037.2 L1665.8 1042.5 L1666.2 1047.7 L1666.7 1052.7 L1667.2 1057.7 L1667.7 1062.7 L1668.2 1067.7 L1668.6 1072.9 L1669.1 1078.1 L1669.6 1083.5 L1670.1 1089.2 L1670.6 1095.1 L1671 1101.4 L1671.5 1108 L1672 1115 L1672.3 1120.1 L1672.6 1125.6 L1673 1131.5 L1673.3 1137.6 L1673.6 1144 L1673.9 1150.4 L1674.2 1156.8 L1674.5 1163 L1674.9 1169 L1675.2 1174.7 L1675.5 1180 L1675.9 1186.8 L1676.4 1193.4 L1676.8 1199.9 L1677.2 1206.2 L1677.7 1212.5 L1678.1 1218.6 L1678.5 1224.6 L1679 1230.6 L1679.4 1236.4 L1679.8 1242.1 L1680.2 1247.7 L1680.7 1253.2 L1681.1 1258.7 L1681.5 1264.1 L1682 1269.4 L1682.4 1274.6 L1682.8 1279.8 L1683.3 1284.9 L1683.7 1290 L1684.1 1295.1 L1684.6 1300 L1685 1305 L1685.6 1311.5 L1686.1 1317.8 L1686.7 1324.2 L1687.3 1330.4 L1687.8 1336.6 L1688.4 1342.7 L1689 1348.7 L1689.5 1354.6 L1690.1 1360.5 L1690.7 1366.3 L1691.2 1372 L1691.8 1377.7 L1692.4 1383.3 L1693 1388.8 L1693.5 1394.2 L1694.1 1399.5 L1694.7 1404.8 L1695.2 1410 L1695.8 1415.1 L1696.4 1420.2 L1696.9 1425.1 L1697.5 1430 L1698.2 1436.1 L1698.9 1442.3 L1699.6 1448.5 L1700.4 1454.7 L1701.1 1460.7 L1701.8 1466.7 L1702.5 1472.5 L1703.2 1478.1 L1703.9 1483.4 L1704.6 1488.5 L1705.4 1493.2 L1706.1 1497.6 L1706.8 1501.5 L1707.5 1505 L1709 1511.4 L1710.5 1517.1 L1712 1522 L1713.5 1526.3 L1715 1530 L1717.4 1535.3 L1719.8 1540.2 L1722.2 1544.4 L1724.6 1547.7 L1727 1550 L1731.5 1552.8 L1736 1555.1 L1740.5 1556.7 L1745 1557.5 L1750.8 1558 L1756.7 1558.4 L1762.5 1558.5 L1775.5 1558.5 L1788.5 1558.5 L1801.5 1558.5 L1814.5 1558.5 L1827.4 1558.6 L1840.4 1558.6 L1853.4 1558.6 L1866.4 1558.6 L1879.4 1558.6 L1892.4 1558.6 L1905.4 1558.6 L1918.3 1558.6 L1931.3 1558.6 L1944.3 1558.6 L1957.3 1558.6 L1970.3 1558.6 L1983.3 1558.6 L1996.3 1558.6 L2009.3 1558.6 L2022.2 1558.6 L2035.2 1558.6 L2048.2 1558.6 L2061.2 1558.6 L2074.2 1558.6 L2087.2 1558.6 L2100.2 1558.6 L2113.2 1558.6 L2126.2 1558.6 L2139.1 1558.6 L2152.1 1558.6 L2165.1 1558.6 L2178.1 1558.6 L2191.1 1558.6 L2204.1 1558.6 L2217.1 1558.6 L2230.1 1558.7 L2243 1558.7 L2256 1558.7 L2269 1558.7 L2282 1558.7 L2287 1559.5 L2292 1561.1 L2297 1562.8 L2302 1563.7 L2308.4 1563.9 L2314.7 1564.1 L2321.1 1564.2 L2327.5 1564.3 L2333.8 1564.4 L2340.2 1564.5 L2346.5 1564.6 L2352.9 1564.6 L2359.3 1564.7 L2365.6 1564.7 L2372 1564.7" fill="none" stroke="#ff00ff" stroke-width="6.6" stroke-linejoin="round"/>
<polygon points="310,1530.9 331.8,1554.5 310,1578.1 288.2,1554.5" fill="#ff00ff"/>
<polygon points="353.7,1530.9 375.5,1554.5 353.7,1578.1 331.9,1554.5" fill="#ff00ff"/>
<polygon points="396,1530.9 417.8,1554.5 396,1578.1 374.2,1554.5" fill="#ff00ff"/>
<polygon points="442.5,1530.9 464.3,1554.5 442.5,1578.1 420.7,1554.5" fill="#ff00ff"/>
<polygon points="486,1530.9 507.8,1554.5 486,1578.1 464.2,1554.5" fill="#ff00ff"/>
<polygon points="528.7,1530.9 550.5,1554.5 528.7,1578.1 506.9,1554.5" fill="#ff00ff"/>
<polygon points="570,1530.9 591.8,1554.5 570,1578.1 548.2,1554.5" fill="#ff00ff"/>
<polygon points="612.5,1530.4 634.3,1554 612.5,1577.6 590.7,1554" fill="#ff00ff"/>
<polygon points="655,1529.4 676.8,1553 655,1576.6 633.2,1553" fill="#ff00ff"/>
<polygon points="700,1527.9 721.8,1551.5 700,1575.1 678.2,1551.5" fill="#ff00ff"/>
<polygon points="745,1526.4 766.8,1550 745,1573.6 723.2,1550" fill="#ff00ff"/>
<polygon points="791,1523.9 812.8,1547.5 791,1571.1 769.2,1547.5" fill="#ff00ff"/>
<polygon points="837.5,1519.4 859.3,1543 837.5,1566.6 815.7,1543" fill="#ff00ff"/>
<polygon points="887,1511.4 908.8,1535 887,1558.6 865.2,1535" fill="#ff00ff"/>
<polygon points="936.5,1502.4 958.3,1526 936.5,1549.6 914.7,1526" fill="#ff00ff"/>
<polygon points="986,1492.4 1007.8,1516 986,1539.6 964.2,1516" fill="#ff00ff"/>
<polygon points="1030.5,1483.4 1052.3,1507 1030.5,1530.6 1008.7,1507" fill="#ff00ff"/>
<polygon points="1075,1474.4 1096.8,1498 1075,1521.6 1053.2,1498" fill="#ff00ff"/>
<polygon points="1119.5,1461.4 1141.3,1485 1119.5,1508.6 1097.7,1485" fill="#ff00ff"/>
<polygon points="1164,1444.4 1185.8,1468 1164,1491.6 1142.2,1468" fill="#ff00ff"/>
<polygon points="1208.5,1419.4 1230.3,1443 1208.5,1466.6 1186.7,1443" fill="#ff00ff"/>
<polygon points="1253,1376.4 1274.8,1400 1253,1423.6 1231.2,1400" fill="#ff00ff"/>
<polygon points="1297.5,1316.4 1319.3,1340 1297.5,1363.6 1275.7,1340" fill="#ff00ff"/>
<polygon points="1341,1227.4 1362.8,1251 1341,1274.6 1319.2,1251" fill="#ff00ff"/>
<polygon points="1388,1110.9 1409.8,1134.5 1388,1158.1 1366.2,1134.5" fill="#ff00ff"/>
<polygon points="1435,983.9 1456.8,1007.5 1435,1031.1 1413.2,1007.5" fill="#ff00ff"/>
<polygon points="1483.7,847.4 1505.5,871 1483.7,894.6 1461.9,871" fill="#ff00ff"/>
<polygon points="1533.5,687.9 1555.3,711.5 1533.5,735.1 1511.7,711.5" fill="#ff00ff"/>
<polygon points="1577.5,512.4 1599.3,536 1577.5,559.6 1555.7,536" fill="#ff00ff"/>
<polygon points="1626,560.4 1647.8,584 1626,607.6 1604.2,584" fill="#ff00ff"/>
<polygon points="1672,1091.4 1693.8,1115 1672,1138.6 1650.2,1115" fill="#ff00ff"/>
<polygon points="1715,1506.4 1736.8,1530 1715,1553.6 1693.2,1530" fill="#ff00ff"/>
<polygon points="1762.5,1534.9 1784.3,1558.5 1762.5,1582.1 1740.7,1558.5" fill="#ff00ff"/>
<polygon points="1805,1534.9 1826.8,1558.5 1805,1582.1 1783.2,1558.5" fill="#ff00ff"/>
<polygon points="1847.5,1535 1869.3,1558.6 1847.5,1582.2 1825.7,1558.6" fill="#ff00ff"/>
<polygon points="1892.5,1535 1914.3,1558.6 1892.5,1582.2 1870.7,1558.6" fill="#ff00ff"/>
<polygon points="1936,1535 1957.8,1558.6 1936,1582.2 1914.2,1558.6" fill="#ff00ff"/>
<polygon points="1980,1535 2001.8,1558.6 1980,1582.2 1958.2,1558.6" fill="#ff00ff"/>
<polygon points="2026,1535 2047.8,1558.6 2026,1582.2 2004.2,1558.6" fill="#ff00ff"/>
<polygon points="2073,1535 2094.8,1558.6 2073,1582.2 2051.2,1558.6" fill="#ff00ff"/>
<polygon points="2121,1535 2142.8,1558.6 2121,1582.2 2099.2,1558.6" fill="#ff00ff"/>
<polygon points="2171,1535 2192.8,1558.6 2171,1582.2 2149.2,1558.6" fill="#ff00ff"/>
<polygon points="2217,1535 2238.8,1558.6 2217,1582.2 2195.2,1558.6" fill="#ff00ff"/>
<polygon points="2263,1535.1 2284.8,1558.7 2263,1582.3 2241.2,1558.7" fill="#ff00ff"/>
<polygon points="2307,1540.3 2328.8,1563.9 2307,1587.5 2285.2,1563.9" fill="#ff00ff"/>
<polygon points="2351.5,1541 2373.3,1564.6 2351.5,1588.2 2329.7,1564.6" fill="#ff00ff"/>
<path d="M300 1555.5 L307.5 1555.5 L315 1555.5 L322.5 1555.5 L330 1555.5 L337.5 1555.5 L345 1555.5 L352.5 1555.5 L360 1555.5 L367.5 1555.5 L375 1555.5 L382.5 1555.5 L390 1555.5 L397.5 1555.5 L405 1555.5 L412.5 1555.5 L420 1555.5 L427.5 1555.5 L435 1555.5 L442.5 1555.5 L450 1555.5 L457.5 1555.5 L465 1555.5 L472.5 1555.5 L480 1555.5 L487.5 1555.5 L495 1555.5 L502.5 1555.5 L510 1555.5 L517.5 1555.5 L525 1555.5 L532.5 1555.5 L540 1555.5 L547.5 1555.5 L555 1555.5 L562.5 1555.5 L570 1555.5 L577.5 1555.5 L585 1555.5 L592.5 1555.5 L600 1555.5 L606.1 1555.5 L612.2 1555.4 L618.3 1555.2 L624.4 1555.1 L630.6 1554.9 L636.7 1554.7 L642.8 1554.4 L648.9 1554.2 L655 1554 L660.9 1553.8 L666.9 1553.6 L672.8 1553.4 L678.8 1553.1 L684.7 1552.9 L690.6 1552.6 L696.6 1552.3 L702.5 1552 L708.1 1551.7 L713.8 1551.4 L719.4 1551 L725 1550.6 L730.6 1550.2 L736.2 1549.8 L741.9 1549.4 L747.5 1549 L753.4 1548.6 L759.4 1548.1 L765.3 1547.6 L771.2 1547.1 L777.2 1546.6 L783.1 1546.1 L789.1 1545.6 L795 1545 L800.8 1544.4 L806.5 1543.8 L812.2 1543.2 L818 1542.5 L823.8 1541.9 L829.5 1541.2 L835.2 1540.6 L841 1540 L846.7 1539.4 L852.4 1538.9 L858.2 1538.3 L863.9 1537.8 L869.6 1537.3 L875.3 1536.7 L881.1 1536.2 L886.8 1535.6 L892.5 1535 L897.9 1534.4 L903.3 1533.8 L908.7 1533.2 L914.1 1532.5 L919.4 1531.9 L924.8 1531.2 L930.2 1530.5 L935.6 1529.7 L941 1529 L946.4 1528.2 L951.9 1527.3 L957.3 1526.3 L962.8 1525.3 L968.2 1524.3 L973.7 1523.4 L979.1 1522.5 L984.6 1521.7 L990 1521 L995.6 1520.4 L1001.2 1519.9 L1006.9 1519.4 L1012.5 1519 L1018.1 1518.6 L1023.8 1518.1 L1029.4 1517.6 L1035 1517 L1040.6 1516.3 L1046.2 1515.4 L1051.9 1514.5 L1057.5 1513.4 L1063.1 1512.4 L1068.8 1511.2 L1074.4 1510.1 L1080 1509 L1085 1508 L1090 1506.9 L1095 1505.8 L1100 1504.7 L1105 1503.5 L1110 1502.3 L1115 1501.2 L1120 1500.1 L1125 1499 L1130 1498 L1135 1497 L1140 1496.1 L1145 1495.1 L1150 1494.2 L1155 1493.2 L1160 1492.2 L1165 1491.1 L1170 1490 L1174.7 1488.9 L1179.4 1487.7 L1184.2 1486.5 L1188.9 1485.2 L1193.6 1483.9 L1198.3 1482.5 L1203.1 1480.9 L1207.8 1479.3 L1212.5 1477.5 L1216.6 1475.8 L1220.7 1474 L1224.8 1472 L1228.9 1469.8 L1233 1467.5 L1237 1465.1 L1241.1 1462.5 L1245.2 1459.8 L1249.3 1457 L1253.4 1454.1 L1257.5 1451 L1260.4 1448.7 L1263.3 1446.3 L1266.2 1443.7 L1269.1 1440.9 L1272 1438 L1274.9 1435.1 L1277.8 1431.9 L1280.7 1428.7 L1283.6 1425.4 L1286.5 1422 L1289.4 1418.5 L1292.3 1415 L1295.2 1411.4 L1298.1 1407.7 L1301 1404 L1303.4 1400.9 L1305.7 1397.7 L1308.1 1394.4 L1310.5 1391.1 L1312.9 1387.7 L1315.2 1384.1 L1317.6 1380.5 L1320 1376.9 L1322.3 1373.1 L1324.7 1369.3 L1327.1 1365.4 L1329.5 1361.4 L1331.8 1357.3 L1334.2 1353.2 L1336.6 1349 L1339 1344.7 L1341.3 1340.4 L1343.7 1336 L1345.6 1332.5 L1347.5 1328.8 L1349.3 1325.1 L1351.2 1321.3 L1353.1 1317.5 L1355 1313.5 L1356.8 1309.5 L1358.7 1305.5 L1360.6 1301.4 L1362.5 1297.2 L1364.3 1292.9 L1366.2 1288.6 L1368.1 1284.3 L1370 1279.9 L1371.8 1275.4 L1373.7 1270.9 L1375.6 1266.4 L1377.5 1261.8 L1379.3 1257.2 L1381.2 1252.6 L1383.1 1247.9 L1385 1243.2 L1386.8 1238.5 L1388.7 1233.7 L1390.3 1229.7 L1391.9 1225.7 L1393.4 1221.6 L1395 1217.6 L1396.6 1213.5 L1398.2 1209.4 L1399.7 1205.3 L1401.3 1201.2 L1402.9 1197 L1404.5 1192.8 L1406 1188.6 L1407.6 1184.3 L1409.2 1180 L1410.8 1175.6 L1412.3 1171.2 L1413.9 1166.7 L1415.5 1162.2 L1417.1 1157.6 L1418.7 1153 L1420.2 1148.2 L1421.8 1143.5 L1423.4 1138.6 L1425 1133.7 L1426.5 1128.7 L1428.1 1123.7 L1429.7 1118.5 L1431.3 1113.3 L1432.8 1107.9 L1434.4 1102.5 L1436 1097 L1437.2 1092.8 L1438.4 1088.5 L1439.6 1084.1 L1440.8 1079.6 L1442 1075.1 L1443.2 1070.6 L1444.3 1065.9 L1445.5 1061.2 L1446.7 1056.5 L1447.9 1051.7 L1449.1 1046.8 L1450.3 1041.9 L1451.5 1036.8 L1452.7 1031.8 L1453.9 1026.7 L1455.1 1021.5 L1456.3 1016.2 L1457.5 1011 L1458.7 1005.6 L1459.8 1000.2 L1461 994.7 L1462.2 989.2 L1463.4 983.6 L1464.6 978 L1465.8 972.3 L1467 966.6 L1468.2 960.8 L1469.4 954.9 L1470.6 949.1 L1471.8 943.1 L1473 937.1 L1474.2 931.1 L1475.4 925 L1476.5 918.8 L1477.7 912.7 L1478.9 906.4 L1480.1 900.1 L1481.3 893.8 L1482.5 887.4 L1483.7 881 L1484.5 876.4 L1485.4 871.6 L1486.2 866.7 L1487.1 861.8 L1487.9 856.7 L1488.8 851.5 L1489.6 846.3 L1490.5 841 L1491.3 835.6 L1492.2 830.2 L1493 824.7 L1493.9 819.2 L1494.7 813.6 L1495.6 808 L1496.4 802.4 L1497.3 796.8 L1498.1 791.2 L1499 785.6 L1499.8 780 L1500.6 774.6 L1501.4 769.3 L1502.3 764 L1503.1 758.7 L1503.9 753.4 L1504.7 748.2 L1505.5 742.9 L1506.3 737.7 L1507.2 732.5 L1508 727.2 L1508.8 722 L1509.6 716.8 L1510.4 711.5 L1511.2 706.2 L1512.1 700.9 L1512.9 695.6 L1513.7 690.3 L1514.5 684.9 L1515.3 679.5 L1516.2 674 L1517 668.5 L1517.8 662.9 L1518.6 657.3 L1519.4 651.7 L1520.2 645.9 L1521.1 640.1 L1521.9 634.2 L1522.7 628.3 L1523.5 622.3 L1524.3 616.2 L1525.1 610 L1526 603.7 L1526.8 597.3 L1527.6 590.8 L1528.4 584.2 L1529.2 577.5 L1530 570.7 L1530.9 563.7 L1531.7 556.7 L1532.5 549.5 L1533.1 544.4 L1533.6 538.8 L1534.2 533 L1534.7 526.9 L1535.3 520.8 L1535.8 514.6 L1536.4 508.6 L1536.9 502.7 L1537.5 497 L1538.1 491.1 L1538.7 485.1 L1539.3 479.1 L1539.9 473 L1540.4 466.9 L1541 460.9 L1541.6 454.8 L1542.2 448.9 L1542.8 443.1 L1543.4 437.5 L1544 432 L1544.6 426.8 L1545.1 421.8 L1545.7 417.1 L1546.3 412.7 L1546.9 408.7 L1547.5 405 L1548.8 397.8 L1550 390.9 L1551.2 384.3 L1552.5 378.1 L1553.8 372.4 L1555 367.1 L1556.2 362.4 L1557.5 358.3 L1558.8 354.8 L1560 352 L1563.3 346.1 L1566.7 341.7 L1570 339 L1575.5 336.8 L1581 335.5 L1586.3 334.3 L1591.7 333.4 L1597 333 L1600 334.7 L1603 339.1 L1606 345 L1607.5 349.1 L1609 355 L1610.5 362 L1611.2 366.1 L1612 370.9 L1612.7 376.3 L1613.5 382.1 L1614.2 388.1 L1615 394.1 L1615.7 400 L1616.3 405 L1617 410 L1617.6 415 L1618.3 420 L1618.9 425 L1619.6 430 L1620.2 435.1 L1620.9 440.3 L1621.5 445.5 L1622.2 450.8 L1622.8 456.2 L1623.5 461.6 L1624.1 467.2 L1624.8 473 L1625.4 478.8 L1626.1 484.9 L1626.7 491.1 L1627.4 497.4 L1628 504 L1628.5 509.2 L1629 514.3 L1629.5 519.5 L1630 524.7 L1630.5 530 L1631 535.2 L1631.5 540.6 L1632 546 L1632.5 551.4 L1633 556.9 L1633.5 562.4 L1634 568.1 L1634.5 573.8 L1635 579.6 L1635.5 585.5 L1636 591.5 L1636.5 597.6 L1637 603.8 L1637.5 610.1 L1638 616.6 L1638.5 623.1 L1639 629.9 L1639.5 636.7 L1640 643.7 L1640.5 650.8 L1641 658.1 L1641.5 665.6 L1642 673.2 L1642.5 681 L1643 689 L1643.5 697.1 L1644 705.5 L1644.5 714.1 L1645 722.8 L1645.5 731.8 L1646 741 L1646.5 750.4 L1647 760 L1647.5 769.9 L1648 780 L1648.2 784 L1648.4 788.4 L1648.6 793 L1648.8 797.9 L1648.9 803 L1649.1 808.4 L1649.3 814 L1649.5 819.8 L1649.7 825.8 L1649.9 831.9 L1650.1 838.2 L1650.3 844.7 L1650.5 851.2 L1650.6 857.9 L1650.8 864.6 L1651 871.4 L1651.2 878.3 L1651.4 885.2 L1651.6 892.1 L1651.8 899 L1652 905.9 L1652.2 912.7 L1652.4 919.5 L1652.5 926.3 L1652.7 932.9 L1652.9 939.5 L1653.1 945.9 L1653.3 952.2 L1653.5 958.4 L1653.7 964.3 L1653.9 970.1 L1654.1 975.7 L1654.2 981.1 L1654.4 986.2 L1654.6 991.1 L1654.8 995.7 L1655 1000 L1655.4 1007.7 L1655.7 1015.1 L1656.1 1022.3 L1656.4 1029.2 L1656.8 1035.9 L1657.1 1042.5 L1657.5 1048.8 L1657.8 1054.9 L1658.2 1060.9 L1658.5 1066.7 L1658.9 1072.4 L1659.3 1078 L1659.6 1083.5 L1660 1088.9 L1660.3 1094.2 L1660.7 1099.4 L1661 1104.6 L1661.4 1109.8 L1661.7 1114.9 L1662.1 1120 L1662.5 1125.1 L1662.8 1130.3 L1663.2 1135.5 L1663.5 1140.7 L1663.9 1146 L1664.2 1151.4 L1664.6 1156.9 L1664.9 1162.5 L1665.3 1168.2 L1665.6 1174 L1666 1180 L1666.3 1185.5 L1666.6 1191 L1667 1196.5 L1667.3 1202.1 L1667.6 1207.6 L1667.9 1213.2 L1668.2 1218.7 L1668.6 1224.3 L1668.9 1229.9 L1669.2 1235.5 L1669.5 1241.2 L1669.9 1246.8 L1670.2 1252.5 L1670.5 1258.2 L1670.8 1263.9 L1671.1 1269.7 L1671.5 1275.4 L1671.8 1281.2 L1672.1 1287 L1672.4 1292.8 L1672.8 1298.7 L1673.1 1304.6 L1673.4 1310.5 L1673.7 1316.4 L1674 1322.4 L1674.4 1328.4 L1674.7 1334.4 L1675 1340.5 L1675.3 1346.3 L1675.6 1352.4 L1675.9 1358.8 L1676.2 1365.4 L1676.5 1372.2 L1676.8 1379 L1677.1 1385.9 L1677.4 1392.7 L1677.6 1399.4 L1677.9 1405.8 L1678.2 1412.1 L1678.5 1417.9 L1678.8 1423.4 L1679.1 1428.4 L1679.4 1432.9 L1679.7 1436.8 L1680 1440 L1680.9 1448.2 L1681.8 1455.8 L1682.7 1462.6 L1683.6 1468.8 L1684.5 1474.5 L1685.4 1479.7 L1686.2 1484.5 L1687.1 1488.9 L1688 1492.9 L1688.9 1496.7 L1689.8 1500.3 L1690.7 1503.7 L1691.6 1507 L1693.3 1512.9 L1694.9 1518.1 L1696.6 1522.5 L1698.3 1526 L1702.2 1532.1 L1706 1536 L1711 1538.3 L1716 1539.7 L1721 1541.5 L1724.8 1543.7 L1728.6 1546.5 L1732.4 1549.4 L1736.2 1552.1 L1740 1554 L1745.7 1556.1 L1751.4 1558 L1757.1 1559.5 L1762.8 1560.6 L1768.5 1561 L1781.3 1561 L1794.2 1561.1 L1807 1561.1 L1819.8 1561.1 L1832.7 1561.1 L1845.5 1561.2 L1858.4 1561.2 L1871.2 1561.2 L1884 1561.2 L1896.9 1561.2 L1909.7 1561.2 L1922.5 1561.2 L1935.4 1561.2 L1948.2 1561.2 L1961.1 1561.2 L1973.9 1561.2 L1986.7 1561.2 L1999.6 1561.2 L2012.4 1561.2 L2025.2 1561.2 L2038.1 1561.2 L2050.9 1561.2 L2063.8 1561.3 L2076.6 1561.3 L2089.4 1561.3 L2102.3 1561.3 L2115.1 1561.3 L2127.9 1561.3 L2140.8 1561.3 L2153.6 1561.3 L2166.5 1561.3 L2179.3 1561.3 L2192.1 1561.3 L2205 1561.3 L2217.8 1561.4 L2230.7 1561.4 L2243.5 1561.4 L2256.3 1561.4 L2269.2 1561.5 L2282 1561.5 L2287 1562.3 L2292 1563.9 L2297 1565.6 L2302 1566.5 L2308.4 1566.7 L2314.7 1566.9 L2321.1 1567 L2327.5 1567.1 L2333.8 1567.2 L2340.2 1567.3 L2346.5 1567.4 L2352.9 1567.4 L2359.3 1567.5 L2365.6 1567.5 L2372 1567.5" fill="none" stroke="#ff8000" stroke-width="6.6" stroke-linejoin="round"/>
<polygon points="278.9,1555.5 317.3,1533.3 317.3,1577.7" fill="#ff8000"/>
<polygon points="327.4,1555.5 365.8,1533.3 365.8,1577.7" fill="#ff8000"/>
<polygon points="376.9,1555.5 415.3,1533.3 415.3,1577.7" fill="#ff8000"/>
<polygon points="423.1,1555.5 461.5,1533.3 461.5,1577.7" fill="#ff8000"/>
<polygon points="465.4,1555.5 503.8,1533.3 503.8,1577.7" fill="#ff8000"/>
<polygon points="508.1,1555.5 546.5,1533.3 546.5,1577.7" fill="#ff8000"/>
<polygon points="546.9,1555.5 585.3,1533.3 585.3,1577.7" fill="#ff8000"/>
<polygon points="586.9,1555.4 625.3,1533.2 625.3,1577.6" fill="#ff8000"/>
<polygon points="629.4,1554 667.8,1531.8 667.8,1576.2" fill="#ff8000"/>
<polygon points="676.9,1552 715.3,1529.8 715.3,1574.2" fill="#ff8000"/>
<polygon points="721.9,1549 760.3,1526.8 760.3,1571.2" fill="#ff8000"/>
<polygon points="769.4,1545 807.8,1522.8 807.8,1567.2" fill="#ff8000"/>
<polygon points="815.4,1540 853.8,1517.8 853.8,1562.2" fill="#ff8000"/>
<polygon points="866.9,1535 905.3,1512.8 905.3,1557.2" fill="#ff8000"/>
<polygon points="915.4,1529 953.8,1506.8 953.8,1551.2" fill="#ff8000"/>
<polygon points="964.4,1521 1002.8,1498.8 1002.8,1543.2" fill="#ff8000"/>
<polygon points="1009.4,1517 1047.8,1494.8 1047.8,1539.2" fill="#ff8000"/>
<polygon points="1054.4,1509 1092.8,1486.8 1092.8,1531.2" fill="#ff8000"/>
<polygon points="1099.4,1499 1137.8,1476.8 1137.8,1521.2" fill="#ff8000"/>
<polygon points="1144.4,1490 1182.8,1467.8 1182.8,1512.2" fill="#ff8000"/>
<polygon points="1186.9,1477.5 1225.3,1455.3 1225.3,1499.7" fill="#ff8000"/>
<polygon points="1231.9,1451 1270.3,1428.8 1270.3,1473.2" fill="#ff8000"/>
<polygon points="1275.4,1404 1313.8,1381.8 1313.8,1426.2" fill="#ff8000"/>
<polygon points="1318.1,1336 1356.5,1313.8 1356.5,1358.2" fill="#ff8000"/>
<polygon points="1363.1,1233.7 1401.5,1211.5 1401.5,1255.9" fill="#ff8000"/>
<polygon points="1410.4,1097 1448.8,1074.8 1448.8,1119.2" fill="#ff8000"/>
<polygon points="1458.1,881 1496.5,858.8 1496.5,903.2" fill="#ff8000"/>
<polygon points="1506.9,549.5 1545.3,527.3 1545.3,571.7" fill="#ff8000"/>
<polygon points="1555.4,335.5 1593.8,313.3 1593.8,357.7" fill="#ff8000"/>
<polygon points="1602.4,504 1640.8,481.8 1640.8,526.2" fill="#ff8000"/>
<polygon points="1649.4,1340.5 1687.8,1318.3 1687.8,1362.7" fill="#ff8000"/>
<polygon points="1695.4,1541.5 1733.8,1519.3 1733.8,1563.7" fill="#ff8000"/>
<polygon points="1742.9,1561 1781.3,1538.8 1781.3,1583.2" fill="#ff8000"/>
<polygon points="1782.9,1561.1 1821.3,1538.9 1821.3,1583.3" fill="#ff8000"/>
<polygon points="1820.4,1561.2 1858.8,1539 1858.8,1583.4" fill="#ff8000"/>
<polygon points="1860.4,1561.2 1898.8,1539 1898.8,1583.4" fill="#ff8000"/>
<polygon points="1902.9,1561.2 1941.3,1539 1941.3,1583.4" fill="#ff8000"/>
<polygon points="1946.9,1561.2 1985.3,1539 1985.3,1583.4" fill="#ff8000"/>
<polygon points="1990.4,1561.2 2028.8,1539 2028.8,1583.4" fill="#ff8000"/>
<polygon points="2036.9,1561.3 2075.3,1539.1 2075.3,1583.5" fill="#ff8000"/>
<polygon points="2082.9,1561.3 2121.3,1539.1 2121.3,1583.5" fill="#ff8000"/>
<polygon points="2144.1,1561.3 2182.5,1539.1 2182.5,1583.5" fill="#ff8000"/>
<polygon points="2194,1561.4 2232.4,1539.2 2232.4,1583.6" fill="#ff8000"/>
<polygon points="2241.4,1561.5 2279.8,1539.3 2279.8,1583.7" fill="#ff8000"/>
<polygon points="2287,1566.8 2325.4,1544.6 2325.4,1589" fill="#ff8000"/>
<polygon points="2330.7,1567.5 2369.1,1545.3 2369.1,1589.7" fill="#ff8000"/>
<path d="M300 1558.7 L307.5 1558.7 L315 1558.7 L322.5 1558.7 L330 1558.7 L337.5 1558.7 L345 1558.7 L352.5 1558.7 L360 1558.7 L367.5 1558.7 L375 1558.6 L382.5 1558.6 L390 1558.6 L397.5 1558.6 L405 1558.6 L412.5 1558.6 L420 1558.6 L427.5 1558.5 L435 1558.5 L442.5 1558.5 L450 1558.5 L457.5 1558.5 L465 1558.4 L472.5 1558.4 L480 1558.4 L487.5 1558.4 L495 1558.4 L502.5 1558.3 L510 1558.3 L517.5 1558.3 L525 1558.3 L532.5 1558.2 L540 1558.2 L547.5 1558.2 L555 1558.2 L562.5 1558.1 L570 1558.1 L577.5 1558.1 L585 1558.1 L592.5 1558 L600 1558 L606.1 1558 L612.2 1558 L618.3 1557.9 L624.4 1557.9 L630.5 1557.9 L636.6 1557.8 L642.7 1557.8 L648.8 1557.8 L654.9 1557.7 L661 1557.7 L667.1 1557.7 L673.2 1557.6 L679.3 1557.6 L685.4 1557.5 L691.5 1557.5 L697.6 1557.4 L703.8 1557.4 L709.9 1557.4 L716 1557.3 L722.1 1557.3 L728.2 1557.2 L734.3 1557.2 L740.4 1557.1 L746.5 1557.1 L752.6 1557 L758.7 1556.9 L764.8 1556.9 L770.9 1556.8 L777 1556.8 L783.1 1556.7 L789.2 1556.7 L795.3 1556.6 L801.4 1556.6 L807.5 1556.5 L813.7 1556.4 L819.9 1556.4 L826.1 1556.3 L832.4 1556.2 L838.6 1556.2 L844.8 1556.1 L851 1556 L857.6 1555.9 L864.3 1555.8 L870.9 1555.7 L877.6 1555.5 L884.2 1555.4 L890.9 1555.2 L897.5 1555 L903.7 1554.8 L909.9 1554.4 L916.1 1554.1 L922.4 1553.7 L928.6 1553.3 L934.8 1552.9 L941 1552.5 L947.3 1552.1 L953.6 1551.8 L959.9 1551.4 L966.1 1551 L972.4 1550.7 L978.7 1550.3 L985 1550 L991.2 1549.7 L997.5 1549.3 L1003.7 1549 L1010 1548.7 L1016.2 1548.4 L1022.5 1548.2 L1028.7 1548 L1035 1547.9 L1041.2 1547.8 L1047.5 1547.8 L1053.7 1547.7 L1060 1547.7 L1066.2 1547.6 L1072.5 1547.5 L1078.6 1547.4 L1084.6 1547.2 L1090.7 1547 L1096.8 1546.7 L1102.9 1546.4 L1108.9 1546 L1115 1545.5 L1120.1 1544.9 L1125.2 1544 L1130.4 1542.8 L1135.5 1541.3 L1140.6 1539.7 L1145.8 1537.9 L1150.9 1536 L1156 1534 L1160 1532.4 L1163.9 1530.7 L1167.8 1528.8 L1171.8 1526.7 L1175.8 1524.5 L1179.7 1522 L1183.7 1519.3 L1187.6 1516.5 L1191.5 1513.4 L1195.5 1510 L1197.9 1507.8 L1200.3 1505.4 L1202.6 1502.9 L1205 1500.1 L1207.4 1497.2 L1209.8 1494 L1212.2 1490.6 L1214.6 1487.1 L1216.9 1483.3 L1219.3 1479.2 L1221.7 1475 L1224.1 1470.5 L1226.5 1465.8 L1228.9 1460.9 L1231.2 1455.7 L1233.6 1450.2 L1236 1444.5 L1237 1441.9 L1238.1 1439.1 L1239.1 1436.1 L1240.1 1433 L1241.1 1429.7 L1242.2 1426.2 L1243.2 1422.6 L1244.2 1418.8 L1245.2 1414.9 L1246.3 1410.8 L1247.3 1406.5 L1248.3 1402.1 L1249.3 1397.6 L1250.4 1392.9 L1251.4 1388.1 L1252.4 1383.2 L1253.4 1378.2 L1254.5 1373 L1255.5 1367.7 L1256.5 1362.4 L1257.6 1356.9 L1258.6 1351.2 L1259.6 1345.5 L1260.6 1339.7 L1261.7 1333.8 L1262.7 1327.9 L1263.7 1321.8 L1264.7 1315.6 L1265.8 1309.4 L1266.8 1303.1 L1267.8 1296.7 L1268.8 1290.3 L1269.9 1283.8 L1270.9 1277.2 L1271.9 1270.6 L1272.9 1264 L1274 1257.3 L1275 1250.5 L1275.9 1244.2 L1276.9 1237.8 L1277.8 1231.1 L1278.8 1224.3 L1279.7 1217.4 L1280.6 1210.2 L1281.6 1202.9 L1282.5 1195.4 L1283.4 1187.8 L1284.4 1180 L1285.3 1172.1 L1286.2 1164 L1287.2 1155.7 L1288.1 1147.3 L1289.1 1138.8 L1290 1130.1 L1290.9 1121.2 L1291.9 1112.3 L1292.8 1103.2 L1293.8 1093.9 L1294.7 1084.6 L1295.6 1075.1 L1296.6 1065.5 L1297.5 1055.7 L1298.4 1045.8 L1299.4 1035.9 L1300.3 1025.8 L1301.2 1015.5 L1302.2 1005.2 L1303.1 994.8 L1304.1 984.2 L1305 973.6 L1305.9 962.8 L1306.9 952 L1307.8 941.1 L1308.8 930 L1309.7 918.9 L1310.6 907.7 L1311.6 896.4 L1312.5 885 L1312.9 879.6 L1313.4 873.8 L1313.8 867.7 L1314.2 861.5 L1314.6 855.2 L1315.1 848.8 L1315.5 842.5 L1316.1 834 L1316.7 825.5 L1317.2 816.9 L1317.8 808.2 L1318.4 799.5 L1319 790.8 L1319.6 782 L1320.1 773.2 L1320.7 764.3 L1321.3 755.4 L1321.9 746.5 L1322.5 737.5 L1323 728.5 L1323.6 719.5 L1324.2 710.5 L1324.8 701.4 L1325.4 692.3 L1325.9 683.3 L1326.5 674.2 L1327.1 665.1 L1327.7 656 L1328.3 646.9 L1328.8 637.9 L1329.4 628.8 L1330 619.7 L1330.6 610.7 L1331.2 601.6 L1331.7 592.6 L1332.3 583.6 L1332.9 574.6 L1333.5 565.7 L1334.1 556.8 L1334.6 547.9 L1335.2 539.1 L1335.8 530.3 L1336.4 521.5 L1337 512.8 L1337.5 504.2 L1338.1 495.6 L1338.7 487 L1339.2 480.3 L1339.6 473.5 L1340 466.5 L1340.5 459.5 L1341 452.3 L1341.4 445 L1341.9 437.7 L1342.3 430.3 L1342.8 422.9 L1343.2 415.4 L1343.7 407.9 L1344.1 400.3 L1344.5 392.8 L1345 385.2 L1345.5 377.7 L1345.9 370.2 L1346.4 362.8 L1346.8 355.4 L1347.2 348.1 L1347.7 340.9 L1348.2 333.7 L1348.6 326.7 L1349 319.8 L1349.5 313 L1350 306.4 L1350.4 299.9 L1350.9 293.6 L1351.3 287.4 L1351.8 281.5 L1352.2 275.7 L1352.7 270.2 L1353.1 264.9 L1353.5 259.8 L1354 255 L1354.5 250.4 L1354.9 246.1 L1355.4 242.1 L1355.8 238.4 L1356.2 235.1 L1356.7 232 L1358 224.4 L1359.2 217.9 L1360.5 212.2 L1361.7 207.2 L1363 203 L1365 197.1 L1367 191.9 L1369 187.3 L1371 183.1 L1373 179.4 L1375 176 L1378.1 171.1 L1381.2 166.6 L1384.4 162.9 L1387.5 160 L1391.7 156.8 L1395.8 154.3 L1400 153.2 L1403 154.5 L1406 158 L1409 162.8 L1412 168 L1413.6 171.1 L1415.2 174.7 L1416.9 178.8 L1418.5 183.3 L1420.1 188.2 L1421.8 193.5 L1423.4 199.1 L1425 205 L1426 208.8 L1427 213 L1427.9 217.6 L1428.9 222.4 L1429.9 227.5 L1430.9 232.9 L1431.9 238.4 L1432.9 244.1 L1433.8 249.8 L1434.8 255.7 L1435.8 261.5 L1436.8 267.4 L1437.8 273.2 L1438.8 278.9 L1439.7 284.4 L1440.7 289.8 L1441.7 295 L1442.7 300 L1443.7 304.7 L1444.8 309.2 L1445.8 313.4 L1446.8 317.5 L1447.8 321.5 L1448.8 325.5 L1449.8 329.6 L1450.9 333.8 L1451.9 338.1 L1452.9 342.8 L1453.9 347.8 L1454.9 353.2 L1455.9 359 L1457 365.4 L1458 372.4 L1459 380 L1459.4 383.6 L1459.8 387.8 L1460.2 392.6 L1460.6 397.8 L1461.1 403.5 L1461.5 409.6 L1461.9 415.9 L1462.3 422.5 L1462.7 429.2 L1463.1 436 L1463.5 442.8 L1463.9 449.6 L1464.4 456.2 L1464.8 462.6 L1465.2 468.8 L1465.6 474.6 L1466 480 L1466.5 486.1 L1467.1 491.2 L1467.6 496 L1468.2 500.9 L1468.7 506.8 L1469.3 514.2 L1469.8 523.7 L1469.9 525.8 L1470 528.3 L1470.1 531.4 L1470.2 535 L1470.2 539 L1470.3 543.4 L1470.4 548.3 L1470.5 553.5 L1470.6 559.1 L1470.7 565 L1470.8 571.2 L1470.9 577.7 L1471 584.5 L1471.1 591.5 L1471.2 598.7 L1471.2 606.2 L1471.3 613.7 L1471.4 621.5 L1471.5 629.3 L1471.6 637.3 L1471.7 645.3 L1471.8 653.3 L1471.9 661.4 L1472 669.5 L1472 677.6 L1472.1 685.6 L1472.2 693.6 L1472.3 701.5 L1472.4 709.2 L1472.5 716.8 L1472.6 724.3 L1472.7 731.5 L1472.8 738.6 L1472.9 745.4 L1473 751.9 L1473 758.2 L1473.1 764.2 L1473.2 769.8 L1473.3 775.1 L1473.4 780 L1473.5 787.5 L1473.7 794.8 L1473.8 801.9 L1474 808.9 L1474.1 815.7 L1474.3 822.4 L1474.4 828.9 L1474.6 835.2 L1474.7 841.4 L1474.8 847.4 L1475 853.2 L1475.1 858.9 L1475.3 864.5 L1475.4 869.9 L1475.6 875.1 L1475.7 880.2 L1475.9 885.2 L1476 890 L1476.3 898.7 L1476.5 907.3 L1476.8 915.7 L1477.1 924.1 L1477.3 932.3 L1477.6 940.4 L1477.9 948.4 L1478.1 956.3 L1478.4 964 L1478.7 971.7 L1478.9 979.2 L1479.2 986.6 L1479.5 993.9 L1479.7 1001.1 L1480 1008.2 L1480.3 1015.2 L1480.5 1022.1 L1480.8 1028.8 L1481.1 1035.5 L1481.3 1042 L1481.6 1048.4 L1481.9 1054.8 L1482.2 1061 L1482.4 1067.1 L1482.7 1073.1 L1483 1079 L1483.2 1084.8 L1483.5 1090.5 L1483.8 1096.2 L1484 1101.7 L1484.3 1107.1 L1484.6 1112.4 L1484.8 1117.6 L1485.1 1122.7 L1485.4 1127.8 L1485.6 1132.7 L1485.9 1137.5 L1486.2 1142.3 L1486.4 1146.9 L1486.7 1151.5 L1487.1 1158.9 L1487.6 1166.3 L1488 1173.6 L1488.5 1180.8 L1488.9 1187.9 L1489.4 1194.8 L1489.8 1201.7 L1490.2 1208.5 L1490.7 1215.1 L1491.1 1221.7 L1491.6 1228.1 L1492 1234.4 L1492.5 1240.5 L1492.9 1246.5 L1493.3 1252.4 L1493.8 1258.1 L1494.2 1263.7 L1494.7 1269.1 L1495.1 1274.3 L1495.6 1279.4 L1496 1284.3 L1496.5 1289 L1496.9 1293.6 L1497.3 1298 L1497.8 1302.1 L1498.2 1306.1 L1498.7 1309.9 L1499.1 1313.5 L1499.6 1316.8 L1500 1320 L1501.1 1327.6 L1502.3 1334.7 L1503.4 1341.5 L1504.5 1347.8 L1505.7 1353.8 L1506.8 1359.5 L1508 1364.9 L1509.1 1370 L1510.2 1374.9 L1511.4 1379.6 L1512.5 1384.1 L1513.6 1388.4 L1514.8 1392.6 L1515.9 1396.8 L1517 1400.9 L1518.2 1404.9 L1519.3 1408.9 L1520.5 1413 L1521.6 1417.1 L1522.7 1421.3 L1523.9 1425.6 L1525 1430 L1526.4 1435.8 L1527.9 1441.6 L1529.3 1447.4 L1530.7 1453 L1532.1 1458.2 L1533.6 1462.9 L1535 1467 L1537.2 1472.6 L1539.4 1477.8 L1541.7 1482.7 L1543.9 1487.2 L1546.1 1491.4 L1548.3 1495.3 L1550.6 1498.8 L1552.8 1502.1 L1555 1505 L1558.4 1509.2 L1561.9 1513 L1565.3 1516.6 L1568.8 1519.9 L1572.2 1522.9 L1575.6 1525.6 L1579.1 1527.9 L1582.5 1530 L1587.2 1532.4 L1591.8 1534.7 L1596.5 1536.7 L1601.1 1538.6 L1605.8 1540.3 L1610.4 1541.9 L1615 1543.4 L1619.7 1544.8 L1624.3 1546.2 L1629 1547.5 L1634.4 1549.1 L1639.9 1550.6 L1645.3 1552.2 L1650.8 1553.6 L1656.2 1554.9 L1661.6 1556 L1667.1 1556.9 L1672.5 1557.5 L1678.4 1557.9 L1684.4 1558.3 L1690.3 1558.6 L1696.2 1558.8 L1702.1 1559 L1708.1 1559.3 L1714 1559.5 L1719.9 1559.8 L1725.7 1560 L1731.6 1560.3 L1737.4 1560.6 L1743.3 1560.8 L1749.1 1560.9 L1755 1561 L1766.7 1561 L1778.4 1561 L1790.2 1561 L1801.9 1561 L1813.6 1561 L1825.3 1561 L1837 1561 L1848.7 1561 L1860.5 1560.9 L1872.2 1560.9 L1883.9 1560.9 L1895.6 1560.9 L1907.3 1560.9 L1919 1560.9 L1930.8 1560.9 L1942.5 1560.9 L1954.2 1560.8 L1965.9 1560.8 L1977.6 1560.8 L1989.3 1560.8 L2001.1 1560.8 L2012.8 1560.8 L2024.5 1560.8 L2036.2 1560.7 L2047.9 1560.7 L2059.7 1560.7 L2071.4 1560.7 L2083.1 1560.7 L2094.8 1560.7 L2106.5 1560.7 L2118.2 1560.7 L2130 1560.6 L2141.7 1560.6 L2153.4 1560.6 L2165.1 1560.6 L2176.8 1560.6 L2188.5 1560.6 L2200.3 1560.6 L2212 1560.6 L2223.7 1560.6 L2230.5 1560.6 L2237.4 1560.6 L2244.2 1560.7 L2251.1 1560.8 L2258 1560.9 L2264.8 1561 L2270.7 1561.3 L2276.6 1561.9 L2282.5 1562.7 L2288.3 1563.5 L2294.2 1564.2 L2300.1 1564.8 L2306 1565 L2312.8 1565 L2319.5 1565 L2326.2 1565 L2333 1565 L2339.8 1565 L2346.5 1565 L2352.9 1565 L2359.2 1565 L2365.6 1565 L2372 1565" fill="none" stroke="#008000" stroke-width="6.6" stroke-linejoin="round"/>
<polygon points="330.6,1558.7 292.2,1536.5 292.2,1580.9" fill="#008000"/>
<polygon points="374.3,1558.7 335.9,1536.5 335.9,1580.9" fill="#008000"/>
<polygon points="420.6,1558.6 382.2,1536.4 382.2,1580.8" fill="#008000"/>
<polygon points="461.6,1558.5 423.2,1536.3 423.2,1580.7" fill="#008000"/>
<polygon points="502.6,1558.4 464.2,1536.2 464.2,1580.6" fill="#008000"/>
<polygon points="543.6,1558.3 505.2,1536.1 505.2,1580.5" fill="#008000"/>
<polygon points="584.6,1558.1 546.2,1535.9 546.2,1580.3" fill="#008000"/>
<polygon points="623.1,1558 584.7,1535.8 584.7,1580.2" fill="#008000"/>
<polygon points="663.6,1557.8 625.2,1535.6 625.2,1580" fill="#008000"/>
<polygon points="705.1,1557.6 666.7,1535.4 666.7,1579.8" fill="#008000"/>
<polygon points="746.1,1557.3 707.7,1535.1 707.7,1579.5" fill="#008000"/>
<polygon points="790.1,1556.9 751.7,1534.7 751.7,1579.1" fill="#008000"/>
<polygon points="833.1,1556.5 794.7,1534.3 794.7,1578.7" fill="#008000"/>
<polygon points="876.6,1556 838.2,1533.8 838.2,1578.2" fill="#008000"/>
<polygon points="923.1,1555 884.7,1532.8 884.7,1577.2" fill="#008000"/>
<polygon points="966.6,1552.5 928.2,1530.3 928.2,1574.7" fill="#008000"/>
<polygon points="1010.6,1550 972.2,1527.8 972.2,1572.2" fill="#008000"/>
<polygon points="1054.3,1548 1015.9,1525.8 1015.9,1570.2" fill="#008000"/>
<polygon points="1098.1,1547.5 1059.7,1525.3 1059.7,1569.7" fill="#008000"/>
<polygon points="1140.6,1545.5 1102.2,1523.3 1102.2,1567.7" fill="#008000"/>
<polygon points="1181.6,1534 1143.2,1511.8 1143.2,1556.2" fill="#008000"/>
<polygon points="1221.1,1510 1182.7,1487.8 1182.7,1532.2" fill="#008000"/>
<polygon points="1261.6,1444.5 1223.2,1422.3 1223.2,1466.7" fill="#008000"/>
<polygon points="1300.6,1250.5 1262.2,1228.3 1262.2,1272.7" fill="#008000"/>
<polygon points="1341.1,842.5 1302.7,820.3 1302.7,864.7" fill="#008000"/>
<polygon points="1382.3,232 1343.9,209.8 1343.9,254.2" fill="#008000"/>
<polygon points="1425.6,153.2 1387.2,131 1387.2,175.4" fill="#008000"/>
<polygon points="1467.3,295 1428.9,272.8 1428.9,317.2" fill="#008000"/>
<polygon points="1512.3,1151.5 1473.9,1129.3 1473.9,1173.7" fill="#008000"/>
<polygon points="1560.6,1467 1522.2,1444.8 1522.2,1489.2" fill="#008000"/>
<polygon points="1608.1,1530 1569.7,1507.8 1569.7,1552.2" fill="#008000"/>
<polygon points="1654.6,1547.5 1616.2,1525.3 1616.2,1569.7" fill="#008000"/>
<polygon points="1698.1,1557.5 1659.7,1535.3 1659.7,1579.7" fill="#008000"/>
<polygon points="1739.6,1559.5 1701.2,1537.3 1701.2,1581.7" fill="#008000"/>
<polygon points="1780.6,1561 1742.2,1538.8 1742.2,1583.2" fill="#008000"/>
<polygon points="1820.6,1561 1782.2,1538.8 1782.2,1583.2" fill="#008000"/>
<polygon points="1859.3,1561 1820.9,1538.8 1820.9,1583.2" fill="#008000"/>
<polygon points="1897.6,1560.9 1859.2,1538.7 1859.2,1583.1" fill="#008000"/>
<polygon points="1936.6,1560.9 1898.2,1538.7 1898.2,1583.1" fill="#008000"/>
<polygon points="1979.3,1560.8 1940.9,1538.6 1940.9,1583" fill="#008000"/>
<polygon points="2023.1,1560.8 1984.7,1538.6 1984.7,1583" fill="#008000"/>
<polygon points="2066.6,1560.7 2028.2,1538.5 2028.2,1582.9" fill="#008000"/>
<polygon points="2113.1,1560.7 2074.7,1538.5 2074.7,1582.9" fill="#008000"/>
<polygon points="2159.3,1560.6 2120.9,1538.4 2120.9,1582.8" fill="#008000"/>
<polygon points="2205.6,1560.6 2167.2,1538.4 2167.2,1582.8" fill="#008000"/>
<polygon points="2249.2,1560.6 2210.8,1538.4 2210.8,1582.8" fill="#008000"/>
<polygon points="2290.4,1561 2252,1538.8 2252,1583.2" fill="#008000"/>
<polygon points="2331.6,1565 2293.2,1542.8 2293.2,1587.2" fill="#008000"/>
<polygon points="2372.1,1565 2333.7,1542.8 2333.7,1587.2" fill="#008000"/>
</g>
<g font-family="'Liberation Sans', Arial, sans-serif" fill="#000">
<path d="M364.5 216.5 H511.8" stroke="#000000" stroke-width="6.6"/>
<rect x="421.8" y="200.2" width="32.5" height="32.5" fill="#000000"/>
<text transform="translate(525.3 238.5) scale(0.943 1)" font-size="66.3" text-anchor="start">PP</text>
<path d="M364.5 293.8 H511.8" stroke="#ff0000" stroke-width="6.6"/>
<circle cx="438" cy="293.8" r="17.7" fill="#ff0000"/>
<text transform="translate(525.3 315.8) scale(0.943 1)" font-size="66.3" text-anchor="start">PP/20<tspan font-family="'Liberation Serif', 'Times New Roman', serif" font-size="60">%</tspan>PN-DOPO</text>
<path d="M364.5 371.3 H511.8" stroke="#0000ff" stroke-width="6.6"/>
<polygon points="438,345.7 415.8,384.1 460.2,384.1" fill="#0000ff"/>
<text transform="translate(525.3 393.3) scale(0.943 1)" font-size="66.3" text-anchor="start">PP/19<tspan font-family="'Liberation Serif', 'Times New Roman', serif" font-size="60">%</tspan>PN-DOPO/1<tspan font-family="'Liberation Serif', 'Times New Roman', serif" font-size="60">%</tspan>OMMT</text>
<path d="M364.5 449.3 H511.8" stroke="#808000" stroke-width="6.6"/>
<polygon points="438,474.9 415.8,436.5 460.2,436.5" fill="#808000"/>
<text transform="translate(525.3 471.3) scale(0.943 1)" font-size="66.3" text-anchor="start">PP/17<tspan font-family="'Liberation Serif', 'Times New Roman', serif" font-size="60">%</tspan>PN-DOPO/3<tspan font-family="'Liberation Serif', 'Times New Roman', serif" font-size="60">%</tspan>OMMT</text>
<path d="M364.5 527 H511.8" stroke="#ff00ff" stroke-width="6.6"/>
<polygon points="438,503.4 459.8,527 438,550.6 416.2,527" fill="#ff00ff"/>
<text transform="translate(525.3 549) scale(0.943 1)" font-size="66.3" text-anchor="start">PP/15<tspan font-family="'Liberation Serif', 'Times New Roman', serif" font-size="60">%</tspan>PN-DOPO/5<tspan font-family="'Liberation Serif', 'Times New Roman', serif" font-size="60">%</tspan>OMMT</text>
<path d="M364.5 605.3 H511.8" stroke="#ff8000" stroke-width="6.6"/>
<polygon points="412.4,605.3 450.8,583.1 450.8,627.5" fill="#ff8000"/>
<text transform="translate(525.3 627.3) scale(0.943 1)" font-size="66.3" text-anchor="start">PP/13<tspan font-family="'Liberation Serif', 'Times New Roman', serif" font-size="60">%</tspan>PN-DOPO/7<tspan font-family="'Liberation Serif', 'Times New Roman', serif" font-size="60">%</tspan>OMMT</text>
<path d="M364.5 683 H511.8" stroke="#008000" stroke-width="6.6"/>
<polygon points="463.6,683 425.2,660.8 425.2,705.2" fill="#008000"/>
<text transform="translate(525.3 705) scale(0.943 1)" font-size="66.3" text-anchor="start">PP/7<tspan font-family="'Liberation Serif', 'Times New Roman', serif" font-size="60">%</tspan>OMMT</text>
</g>
</svg>
</body>
</html>
